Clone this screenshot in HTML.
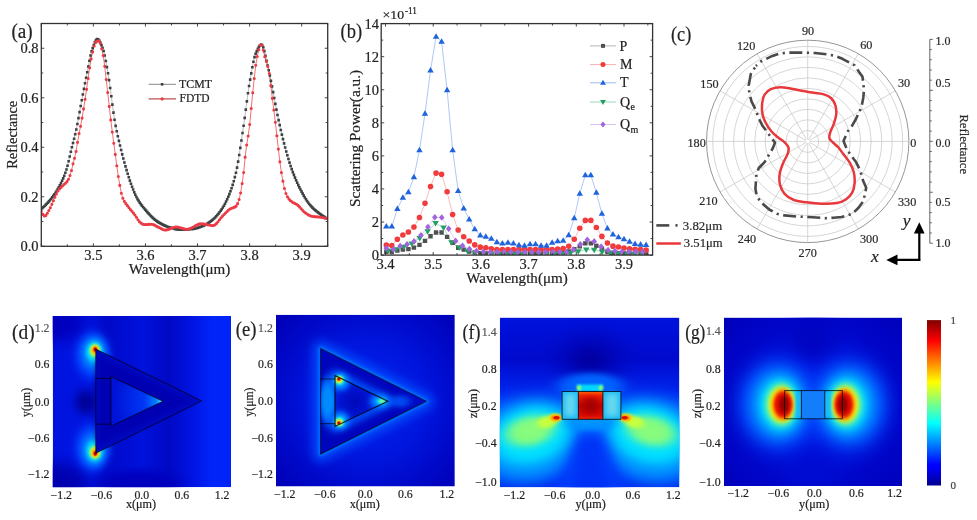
<!DOCTYPE html><html><head><meta charset="utf-8"><style>html,body{margin:0;padding:0;width:977px;height:520px;overflow:hidden;background:#fff}</style></head><body><svg width="977" height="520" viewBox="0 0 977 520" style="position:absolute;left:0;top:0;font-family:'Liberation Serif',serif;will-change:transform">
<rect width="977" height="520" fill="#ffffff"/>
<defs><clipPath id="clipa"><rect x="41.3" y="23.5" width="286.4" height="222.8"/></clipPath></defs>
<g clip-path="url(#clipa)">
<path d="M41.30,208.67 L42.39,207.84 L43.49,206.94 L44.58,205.96 L45.67,204.91 L46.77,203.80 L47.86,202.63 L48.95,201.40 L50.05,200.13 L51.14,198.80 L52.24,197.39 L53.33,195.91 L54.42,194.34 L55.52,192.69 L56.61,190.95 L57.70,189.12 L58.80,187.21 L59.89,185.20 L60.98,183.09 L62.08,180.82 L63.17,178.37 L64.26,175.70 L65.36,172.78 L66.45,169.57 L67.54,165.70 L68.64,161.22 L69.73,156.45 L70.83,151.72 L71.92,147.30 L73.01,143.05 L74.11,138.78 L75.20,134.31 L76.29,129.47 L77.39,124.05 L78.48,118.17 L79.57,112.09 L80.67,106.05 L81.76,100.27 L82.85,94.57 L83.95,88.90 L85.04,83.31 L86.13,77.81 L87.23,72.31 L88.32,66.49 L89.42,60.74 L90.51,55.54 L91.60,51.37 L92.70,48.10 L93.79,44.93 L94.88,42.16 L95.98,40.12 L97.07,39.14 L98.16,39.41 L99.26,40.64 L100.35,42.60 L101.44,45.04 L102.54,47.73 L103.63,50.98 L104.72,55.55 L105.82,61.07 L106.91,67.12 L108.01,73.30 L109.10,80.14 L110.19,87.94 L111.29,96.27 L112.38,104.66 L113.47,112.66 L114.57,119.82 L115.66,125.84 L116.75,131.23 L117.85,136.19 L118.94,140.89 L120.03,145.49 L121.13,149.98 L122.22,154.33 L123.31,158.51 L124.41,162.52 L125.50,166.37 L126.60,170.13 L127.69,173.78 L128.78,177.30 L129.88,180.65 L130.97,183.78 L132.06,186.70 L133.16,189.51 L134.25,192.20 L135.34,194.72 L136.44,197.03 L137.53,199.08 L138.62,200.91 L139.72,202.59 L140.81,204.16 L141.90,205.62 L143.00,207.00 L144.09,208.32 L145.19,209.61 L146.28,210.87 L147.37,212.13 L148.47,213.37 L149.56,214.57 L150.65,215.74 L151.75,216.85 L152.84,217.91 L153.93,218.89 L155.03,219.80 L156.12,220.62 L157.21,221.36 L158.31,222.08 L159.40,222.76 L160.49,223.42 L161.59,224.04 L162.68,224.62 L163.78,225.17 L164.87,225.67 L165.96,226.14 L167.06,226.56 L168.15,226.93 L169.24,227.26 L170.34,227.60 L171.43,227.94 L172.52,228.27 L173.62,228.57 L174.71,228.86 L175.80,229.11 L176.90,229.33 L177.99,229.51 L179.08,229.63 L180.18,229.70 L181.27,229.71 L182.37,229.70 L183.46,229.68 L184.55,229.64 L185.65,229.59 L186.74,229.53 L187.83,229.47 L188.93,229.40 L190.02,229.32 L191.11,229.23 L192.21,229.12 L193.30,228.96 L194.39,228.74 L195.49,228.49 L196.58,228.19 L197.67,227.86 L198.77,227.50 L199.86,227.12 L200.95,226.72 L202.05,226.31 L203.14,225.87 L204.24,225.36 L205.33,224.80 L206.42,224.18 L207.52,223.51 L208.61,222.78 L209.70,222.01 L210.80,221.19 L211.89,220.34 L212.98,219.45 L214.08,218.49 L215.17,217.44 L216.26,216.29 L217.36,215.05 L218.45,213.72 L219.54,212.29 L220.64,210.79 L221.73,209.21 L222.83,207.53 L223.92,205.70 L225.01,203.71 L226.11,201.56 L227.20,199.24 L228.29,196.76 L229.39,194.12 L230.48,191.31 L231.57,188.24 L232.67,184.88 L233.76,181.20 L234.85,177.16 L235.95,172.73 L237.04,167.63 L238.13,161.66 L239.23,155.01 L240.32,147.89 L241.42,140.50 L242.51,133.06 L243.60,125.73 L244.70,117.92 L245.79,109.66 L246.88,101.33 L247.98,93.32 L249.07,86.02 L250.16,79.62 L251.26,73.33 L252.35,67.29 L253.44,61.80 L254.54,57.17 L255.63,53.71 L256.72,51.21 L257.82,48.89 L258.91,46.90 L260.01,45.42 L261.10,44.63 L262.19,44.94 L263.29,47.25 L264.38,51.10 L265.47,55.83 L266.57,60.81 L267.66,65.44 L268.75,70.22 L269.85,75.43 L270.94,80.89 L272.03,86.39 L273.13,92.08 L274.22,97.99 L275.31,103.91 L276.41,109.59 L277.50,114.94 L278.60,120.13 L279.69,125.15 L280.78,129.98 L281.88,134.61 L282.97,139.08 L284.06,143.39 L285.16,147.53 L286.25,151.48 L287.34,155.32 L288.44,159.06 L289.53,162.65 L290.62,166.03 L291.72,169.17 L292.81,172.10 L293.90,174.92 L295.00,177.63 L296.09,180.23 L297.19,182.72 L298.28,185.11 L299.37,187.38 L300.47,189.56 L301.56,191.63 L302.65,193.64 L303.75,195.60 L304.84,197.49 L305.93,199.29 L307.03,200.99 L308.12,202.57 L309.21,204.01 L310.31,205.32 L311.40,206.51 L312.49,207.63 L313.59,208.68 L314.68,209.68 L315.78,210.62 L316.87,211.52 L317.96,212.39 L319.06,213.23 L320.15,214.07 L321.24,214.88 L322.34,215.66 L323.43,216.42 L324.52,217.14 L325.62,217.84 L326.71,218.50" fill="none" stroke="#777" stroke-width="0.5"/>
<path d="M41.30,210.90 L42.81,214.42 L44.32,216.06 L45.83,215.40 L47.34,213.23 L48.85,210.53 L50.36,207.76 L51.87,204.36 L53.38,200.69 L54.89,197.16 L56.40,193.96 L57.91,190.99 L59.42,188.93 L60.93,187.38 L62.44,185.97 L63.95,184.52 L65.46,183.22 L66.97,181.67 L68.48,179.32 L69.99,175.54 L71.50,170.50 L73.01,163.86 L74.52,158.32 L76.03,151.53 L77.54,142.33 L79.05,133.54 L80.56,126.25 L82.07,118.12 L83.58,108.91 L85.09,99.21 L86.60,89.35 L88.11,78.44 L89.62,67.68 L91.13,58.88 L92.64,52.04 L94.15,46.05 L95.66,42.40 L97.17,41.25 L98.68,40.84 L100.19,43.32 L101.70,48.76 L103.21,55.53 L104.72,66.35 L106.23,79.58 L107.74,92.57 L109.25,106.41 L110.77,119.92 L112.28,132.00 L113.79,143.31 L115.30,154.40 L116.81,165.82 L118.32,176.46 L119.83,185.37 L121.34,193.26 L122.85,198.29 L124.36,201.33 L125.87,203.64 L127.38,205.60 L128.89,207.58 L130.40,209.53 L131.91,211.32 L133.42,213.09 L134.93,214.97 L136.44,217.22 L137.95,219.68 L139.46,221.78 L140.97,223.10 L142.48,224.11 L143.99,224.51 L145.50,224.49 L147.01,224.43 L148.52,224.36 L150.03,224.30 L151.54,224.27 L153.05,224.50 L154.56,225.16 L156.07,226.02 L157.58,226.83 L159.09,227.53 L160.60,228.34 L162.11,229.11 L163.62,229.71 L165.13,229.96 L166.64,229.83 L168.15,229.44 L169.66,228.90 L171.17,228.29 L172.68,227.70 L174.19,227.25 L175.70,227.01 L177.21,227.05 L178.72,227.30 L180.23,227.68 L181.74,228.14 L183.25,228.58 L184.76,228.96 L186.27,229.18 L187.78,229.18 L189.29,228.86 L190.80,228.29 L192.31,227.53 L193.82,226.68 L195.33,225.81 L196.84,225.00 L198.35,224.34 L199.86,223.90 L201.37,223.77 L202.88,223.87 L204.39,224.08 L205.90,224.37 L207.41,224.70 L208.92,225.01 L210.43,225.28 L211.94,225.46 L213.45,225.48 L214.96,224.86 L216.47,223.53 L217.98,221.75 L219.49,219.75 L221.00,217.79 L222.51,216.10 L224.02,214.56 L225.53,212.96 L227.04,211.43 L228.55,210.07 L230.06,209.01 L231.57,208.32 L233.08,207.80 L234.59,207.16 L236.10,206.15 L237.61,203.63 L239.12,199.43 L240.63,192.94 L242.14,183.59 L243.65,172.48 L245.16,157.15 L246.67,144.94 L248.18,136.03 L249.70,124.51 L251.21,108.54 L252.72,92.82 L254.23,78.46 L255.74,65.31 L257.25,56.44 L258.76,49.71 L260.27,45.24 L261.78,45.29 L263.29,50.24 L264.80,56.64 L266.31,61.57 L267.82,66.41 L269.33,73.46 L270.84,85.67 L272.35,98.39 L273.86,110.04 L275.37,122.25 L276.88,135.81 L278.39,149.08 L279.90,161.83 L281.41,172.59 L282.92,181.14 L284.43,188.43 L285.94,193.57 L287.45,196.75 L288.96,199.11 L290.47,200.74 L291.98,201.85 L293.49,202.69 L295.00,203.44 L296.51,204.28 L298.02,205.39 L299.53,206.88 L301.04,208.60 L302.55,210.32 L304.06,211.81 L305.57,212.94 L307.08,214.00 L308.59,214.95 L310.10,215.73 L311.61,216.25 L313.12,216.49 L314.63,216.65 L316.14,216.76 L317.65,216.86 L319.16,217.00 L320.67,217.20 L322.18,217.47 L323.69,217.78 L325.20,218.15 L326.71,218.54" fill="none" stroke="#f03030" stroke-width="0.7"/>
<path d="M40.00,207.37h2.6v2.6h-2.6zM41.09,206.54h2.6v2.6h-2.6zM42.19,205.64h2.6v2.6h-2.6zM43.28,204.66h2.6v2.6h-2.6zM44.37,203.61h2.6v2.6h-2.6zM45.47,202.50h2.6v2.6h-2.6zM46.56,201.33h2.6v2.6h-2.6zM47.65,200.10h2.6v2.6h-2.6zM48.75,198.83h2.6v2.6h-2.6zM49.84,197.50h2.6v2.6h-2.6zM50.94,196.09h2.6v2.6h-2.6zM52.03,194.61h2.6v2.6h-2.6zM53.12,193.04h2.6v2.6h-2.6zM54.22,191.39h2.6v2.6h-2.6zM55.31,189.65h2.6v2.6h-2.6zM56.40,187.82h2.6v2.6h-2.6zM57.50,185.91h2.6v2.6h-2.6zM58.59,183.90h2.6v2.6h-2.6zM59.68,181.79h2.6v2.6h-2.6zM60.78,179.52h2.6v2.6h-2.6zM61.87,177.07h2.6v2.6h-2.6zM62.96,174.40h2.6v2.6h-2.6zM64.06,171.48h2.6v2.6h-2.6zM65.15,168.27h2.6v2.6h-2.6zM66.24,164.40h2.6v2.6h-2.6zM67.34,159.92h2.6v2.6h-2.6zM68.43,155.15h2.6v2.6h-2.6zM69.53,150.42h2.6v2.6h-2.6zM70.62,146.00h2.6v2.6h-2.6zM71.71,141.75h2.6v2.6h-2.6zM72.81,137.48h2.6v2.6h-2.6zM73.90,133.01h2.6v2.6h-2.6zM74.99,128.17h2.6v2.6h-2.6zM76.09,122.75h2.6v2.6h-2.6zM77.18,116.87h2.6v2.6h-2.6zM78.27,110.79h2.6v2.6h-2.6zM79.37,104.75h2.6v2.6h-2.6zM80.46,98.97h2.6v2.6h-2.6zM81.55,93.27h2.6v2.6h-2.6zM82.65,87.60h2.6v2.6h-2.6zM83.74,82.01h2.6v2.6h-2.6zM84.83,76.51h2.6v2.6h-2.6zM85.93,71.01h2.6v2.6h-2.6zM87.02,65.19h2.6v2.6h-2.6zM88.12,59.44h2.6v2.6h-2.6zM89.21,54.24h2.6v2.6h-2.6zM90.30,50.07h2.6v2.6h-2.6zM91.40,46.80h2.6v2.6h-2.6zM92.49,43.63h2.6v2.6h-2.6zM93.58,40.86h2.6v2.6h-2.6zM94.68,38.82h2.6v2.6h-2.6zM95.77,37.84h2.6v2.6h-2.6zM96.86,38.11h2.6v2.6h-2.6zM97.96,39.34h2.6v2.6h-2.6zM99.05,41.30h2.6v2.6h-2.6zM100.14,43.74h2.6v2.6h-2.6zM101.24,46.43h2.6v2.6h-2.6zM102.33,49.68h2.6v2.6h-2.6zM103.42,54.25h2.6v2.6h-2.6zM104.52,59.77h2.6v2.6h-2.6zM105.61,65.82h2.6v2.6h-2.6zM106.71,72.00h2.6v2.6h-2.6zM107.80,78.84h2.6v2.6h-2.6zM108.89,86.64h2.6v2.6h-2.6zM109.99,94.97h2.6v2.6h-2.6zM111.08,103.36h2.6v2.6h-2.6zM112.17,111.36h2.6v2.6h-2.6zM113.27,118.52h2.6v2.6h-2.6zM114.36,124.54h2.6v2.6h-2.6zM115.45,129.93h2.6v2.6h-2.6zM116.55,134.89h2.6v2.6h-2.6zM117.64,139.59h2.6v2.6h-2.6zM118.73,144.19h2.6v2.6h-2.6zM119.83,148.68h2.6v2.6h-2.6zM120.92,153.03h2.6v2.6h-2.6zM122.01,157.21h2.6v2.6h-2.6zM123.11,161.22h2.6v2.6h-2.6zM124.20,165.07h2.6v2.6h-2.6zM125.30,168.83h2.6v2.6h-2.6zM126.39,172.48h2.6v2.6h-2.6zM127.48,176.00h2.6v2.6h-2.6zM128.58,179.35h2.6v2.6h-2.6zM129.67,182.48h2.6v2.6h-2.6zM130.76,185.40h2.6v2.6h-2.6zM131.86,188.21h2.6v2.6h-2.6zM132.95,190.90h2.6v2.6h-2.6zM134.04,193.42h2.6v2.6h-2.6zM135.14,195.73h2.6v2.6h-2.6zM136.23,197.78h2.6v2.6h-2.6zM137.32,199.61h2.6v2.6h-2.6zM138.42,201.29h2.6v2.6h-2.6zM139.51,202.86h2.6v2.6h-2.6zM140.60,204.32h2.6v2.6h-2.6zM141.70,205.70h2.6v2.6h-2.6zM142.79,207.02h2.6v2.6h-2.6zM143.89,208.31h2.6v2.6h-2.6zM144.98,209.57h2.6v2.6h-2.6zM146.07,210.83h2.6v2.6h-2.6zM147.17,212.07h2.6v2.6h-2.6zM148.26,213.27h2.6v2.6h-2.6zM149.35,214.44h2.6v2.6h-2.6zM150.45,215.55h2.6v2.6h-2.6zM151.54,216.61h2.6v2.6h-2.6zM152.63,217.59h2.6v2.6h-2.6zM153.73,218.50h2.6v2.6h-2.6zM154.82,219.32h2.6v2.6h-2.6zM155.91,220.06h2.6v2.6h-2.6zM157.01,220.78h2.6v2.6h-2.6zM158.10,221.46h2.6v2.6h-2.6zM159.19,222.12h2.6v2.6h-2.6zM160.29,222.74h2.6v2.6h-2.6zM161.38,223.32h2.6v2.6h-2.6zM162.48,223.87h2.6v2.6h-2.6zM163.57,224.37h2.6v2.6h-2.6zM164.66,224.84h2.6v2.6h-2.6zM165.76,225.26h2.6v2.6h-2.6zM166.85,225.63h2.6v2.6h-2.6zM167.94,225.96h2.6v2.6h-2.6zM169.04,226.30h2.6v2.6h-2.6zM170.13,226.64h2.6v2.6h-2.6zM171.22,226.97h2.6v2.6h-2.6zM172.32,227.27h2.6v2.6h-2.6zM173.41,227.56h2.6v2.6h-2.6zM174.50,227.81h2.6v2.6h-2.6zM175.60,228.03h2.6v2.6h-2.6zM176.69,228.21h2.6v2.6h-2.6zM177.78,228.33h2.6v2.6h-2.6zM178.88,228.40h2.6v2.6h-2.6zM179.97,228.41h2.6v2.6h-2.6zM181.07,228.40h2.6v2.6h-2.6zM182.16,228.38h2.6v2.6h-2.6zM183.25,228.34h2.6v2.6h-2.6zM184.35,228.29h2.6v2.6h-2.6zM185.44,228.23h2.6v2.6h-2.6zM186.53,228.17h2.6v2.6h-2.6zM187.63,228.10h2.6v2.6h-2.6zM188.72,228.02h2.6v2.6h-2.6zM189.81,227.93h2.6v2.6h-2.6zM190.91,227.82h2.6v2.6h-2.6zM192.00,227.66h2.6v2.6h-2.6zM193.09,227.44h2.6v2.6h-2.6zM194.19,227.19h2.6v2.6h-2.6zM195.28,226.89h2.6v2.6h-2.6zM196.37,226.56h2.6v2.6h-2.6zM197.47,226.20h2.6v2.6h-2.6zM198.56,225.82h2.6v2.6h-2.6zM199.65,225.42h2.6v2.6h-2.6zM200.75,225.01h2.6v2.6h-2.6zM201.84,224.57h2.6v2.6h-2.6zM202.94,224.06h2.6v2.6h-2.6zM204.03,223.50h2.6v2.6h-2.6zM205.12,222.88h2.6v2.6h-2.6zM206.22,222.21h2.6v2.6h-2.6zM207.31,221.48h2.6v2.6h-2.6zM208.40,220.71h2.6v2.6h-2.6zM209.50,219.89h2.6v2.6h-2.6zM210.59,219.04h2.6v2.6h-2.6zM211.68,218.15h2.6v2.6h-2.6zM212.78,217.19h2.6v2.6h-2.6zM213.87,216.14h2.6v2.6h-2.6zM214.96,214.99h2.6v2.6h-2.6zM216.06,213.75h2.6v2.6h-2.6zM217.15,212.42h2.6v2.6h-2.6zM218.24,210.99h2.6v2.6h-2.6zM219.34,209.49h2.6v2.6h-2.6zM220.43,207.91h2.6v2.6h-2.6zM221.53,206.23h2.6v2.6h-2.6zM222.62,204.40h2.6v2.6h-2.6zM223.71,202.41h2.6v2.6h-2.6zM224.81,200.26h2.6v2.6h-2.6zM225.90,197.94h2.6v2.6h-2.6zM226.99,195.46h2.6v2.6h-2.6zM228.09,192.82h2.6v2.6h-2.6zM229.18,190.01h2.6v2.6h-2.6zM230.27,186.94h2.6v2.6h-2.6zM231.37,183.58h2.6v2.6h-2.6zM232.46,179.90h2.6v2.6h-2.6zM233.55,175.86h2.6v2.6h-2.6zM234.65,171.43h2.6v2.6h-2.6zM235.74,166.33h2.6v2.6h-2.6zM236.83,160.36h2.6v2.6h-2.6zM237.93,153.71h2.6v2.6h-2.6zM239.02,146.59h2.6v2.6h-2.6zM240.12,139.20h2.6v2.6h-2.6zM241.21,131.76h2.6v2.6h-2.6zM242.30,124.43h2.6v2.6h-2.6zM243.40,116.62h2.6v2.6h-2.6zM244.49,108.36h2.6v2.6h-2.6zM245.58,100.03h2.6v2.6h-2.6zM246.68,92.02h2.6v2.6h-2.6zM247.77,84.72h2.6v2.6h-2.6zM248.86,78.32h2.6v2.6h-2.6zM249.96,72.03h2.6v2.6h-2.6zM251.05,65.99h2.6v2.6h-2.6zM252.14,60.50h2.6v2.6h-2.6zM253.24,55.87h2.6v2.6h-2.6zM254.33,52.41h2.6v2.6h-2.6zM255.42,49.91h2.6v2.6h-2.6zM256.52,47.59h2.6v2.6h-2.6zM257.61,45.60h2.6v2.6h-2.6zM258.71,44.12h2.6v2.6h-2.6zM259.80,43.33h2.6v2.6h-2.6zM260.89,43.64h2.6v2.6h-2.6zM261.99,45.95h2.6v2.6h-2.6zM263.08,49.80h2.6v2.6h-2.6zM264.17,54.53h2.6v2.6h-2.6zM265.27,59.51h2.6v2.6h-2.6zM266.36,64.14h2.6v2.6h-2.6zM267.45,68.92h2.6v2.6h-2.6zM268.55,74.13h2.6v2.6h-2.6zM269.64,79.59h2.6v2.6h-2.6zM270.73,85.09h2.6v2.6h-2.6zM271.83,90.78h2.6v2.6h-2.6zM272.92,96.69h2.6v2.6h-2.6zM274.01,102.61h2.6v2.6h-2.6zM275.11,108.29h2.6v2.6h-2.6zM276.20,113.64h2.6v2.6h-2.6zM277.30,118.83h2.6v2.6h-2.6zM278.39,123.85h2.6v2.6h-2.6zM279.48,128.68h2.6v2.6h-2.6zM280.58,133.31h2.6v2.6h-2.6zM281.67,137.78h2.6v2.6h-2.6zM282.76,142.09h2.6v2.6h-2.6zM283.86,146.23h2.6v2.6h-2.6zM284.95,150.18h2.6v2.6h-2.6zM286.04,154.02h2.6v2.6h-2.6zM287.14,157.76h2.6v2.6h-2.6zM288.23,161.35h2.6v2.6h-2.6zM289.32,164.73h2.6v2.6h-2.6zM290.42,167.87h2.6v2.6h-2.6zM291.51,170.80h2.6v2.6h-2.6zM292.60,173.62h2.6v2.6h-2.6zM293.70,176.33h2.6v2.6h-2.6zM294.79,178.93h2.6v2.6h-2.6zM295.89,181.42h2.6v2.6h-2.6zM296.98,183.81h2.6v2.6h-2.6zM298.07,186.08h2.6v2.6h-2.6zM299.17,188.26h2.6v2.6h-2.6zM300.26,190.33h2.6v2.6h-2.6zM301.35,192.34h2.6v2.6h-2.6zM302.45,194.30h2.6v2.6h-2.6zM303.54,196.19h2.6v2.6h-2.6zM304.63,197.99h2.6v2.6h-2.6zM305.73,199.69h2.6v2.6h-2.6zM306.82,201.27h2.6v2.6h-2.6zM307.91,202.71h2.6v2.6h-2.6zM309.01,204.02h2.6v2.6h-2.6zM310.10,205.21h2.6v2.6h-2.6zM311.19,206.33h2.6v2.6h-2.6zM312.29,207.38h2.6v2.6h-2.6zM313.38,208.38h2.6v2.6h-2.6zM314.48,209.32h2.6v2.6h-2.6zM315.57,210.22h2.6v2.6h-2.6zM316.66,211.09h2.6v2.6h-2.6zM317.76,211.93h2.6v2.6h-2.6zM318.85,212.77h2.6v2.6h-2.6zM319.94,213.58h2.6v2.6h-2.6zM321.04,214.36h2.6v2.6h-2.6zM322.13,215.12h2.6v2.6h-2.6zM323.22,215.84h2.6v2.6h-2.6zM324.32,216.54h2.6v2.6h-2.6zM325.41,217.20h2.6v2.6h-2.6z" fill="#3c4243"/>
<path d="M39.75,210.90a1.55,1.55 0 1,0 3.1,0a1.55,1.55 0 1,0 -3.1,0zM41.26,214.42a1.55,1.55 0 1,0 3.1,0a1.55,1.55 0 1,0 -3.1,0zM42.77,216.06a1.55,1.55 0 1,0 3.1,0a1.55,1.55 0 1,0 -3.1,0zM44.28,215.40a1.55,1.55 0 1,0 3.1,0a1.55,1.55 0 1,0 -3.1,0zM45.79,213.23a1.55,1.55 0 1,0 3.1,0a1.55,1.55 0 1,0 -3.1,0zM47.30,210.53a1.55,1.55 0 1,0 3.1,0a1.55,1.55 0 1,0 -3.1,0zM48.81,207.76a1.55,1.55 0 1,0 3.1,0a1.55,1.55 0 1,0 -3.1,0zM50.32,204.36a1.55,1.55 0 1,0 3.1,0a1.55,1.55 0 1,0 -3.1,0zM51.83,200.69a1.55,1.55 0 1,0 3.1,0a1.55,1.55 0 1,0 -3.1,0zM53.34,197.16a1.55,1.55 0 1,0 3.1,0a1.55,1.55 0 1,0 -3.1,0zM54.85,193.96a1.55,1.55 0 1,0 3.1,0a1.55,1.55 0 1,0 -3.1,0zM56.36,190.99a1.55,1.55 0 1,0 3.1,0a1.55,1.55 0 1,0 -3.1,0zM57.87,188.93a1.55,1.55 0 1,0 3.1,0a1.55,1.55 0 1,0 -3.1,0zM59.38,187.38a1.55,1.55 0 1,0 3.1,0a1.55,1.55 0 1,0 -3.1,0zM60.89,185.97a1.55,1.55 0 1,0 3.1,0a1.55,1.55 0 1,0 -3.1,0zM62.40,184.52a1.55,1.55 0 1,0 3.1,0a1.55,1.55 0 1,0 -3.1,0zM63.91,183.22a1.55,1.55 0 1,0 3.1,0a1.55,1.55 0 1,0 -3.1,0zM65.42,181.67a1.55,1.55 0 1,0 3.1,0a1.55,1.55 0 1,0 -3.1,0zM66.93,179.32a1.55,1.55 0 1,0 3.1,0a1.55,1.55 0 1,0 -3.1,0zM68.44,175.54a1.55,1.55 0 1,0 3.1,0a1.55,1.55 0 1,0 -3.1,0zM69.95,170.50a1.55,1.55 0 1,0 3.1,0a1.55,1.55 0 1,0 -3.1,0zM71.46,163.86a1.55,1.55 0 1,0 3.1,0a1.55,1.55 0 1,0 -3.1,0zM72.97,158.32a1.55,1.55 0 1,0 3.1,0a1.55,1.55 0 1,0 -3.1,0zM74.48,151.53a1.55,1.55 0 1,0 3.1,0a1.55,1.55 0 1,0 -3.1,0zM75.99,142.33a1.55,1.55 0 1,0 3.1,0a1.55,1.55 0 1,0 -3.1,0zM77.50,133.54a1.55,1.55 0 1,0 3.1,0a1.55,1.55 0 1,0 -3.1,0zM79.01,126.25a1.55,1.55 0 1,0 3.1,0a1.55,1.55 0 1,0 -3.1,0zM80.52,118.12a1.55,1.55 0 1,0 3.1,0a1.55,1.55 0 1,0 -3.1,0zM82.03,108.91a1.55,1.55 0 1,0 3.1,0a1.55,1.55 0 1,0 -3.1,0zM83.54,99.21a1.55,1.55 0 1,0 3.1,0a1.55,1.55 0 1,0 -3.1,0zM85.05,89.35a1.55,1.55 0 1,0 3.1,0a1.55,1.55 0 1,0 -3.1,0zM86.56,78.44a1.55,1.55 0 1,0 3.1,0a1.55,1.55 0 1,0 -3.1,0zM88.07,67.68a1.55,1.55 0 1,0 3.1,0a1.55,1.55 0 1,0 -3.1,0zM89.58,58.88a1.55,1.55 0 1,0 3.1,0a1.55,1.55 0 1,0 -3.1,0zM91.09,52.04a1.55,1.55 0 1,0 3.1,0a1.55,1.55 0 1,0 -3.1,0zM92.60,46.05a1.55,1.55 0 1,0 3.1,0a1.55,1.55 0 1,0 -3.1,0zM94.11,42.40a1.55,1.55 0 1,0 3.1,0a1.55,1.55 0 1,0 -3.1,0zM95.62,41.25a1.55,1.55 0 1,0 3.1,0a1.55,1.55 0 1,0 -3.1,0zM97.13,40.84a1.55,1.55 0 1,0 3.1,0a1.55,1.55 0 1,0 -3.1,0zM98.64,43.32a1.55,1.55 0 1,0 3.1,0a1.55,1.55 0 1,0 -3.1,0zM100.15,48.76a1.55,1.55 0 1,0 3.1,0a1.55,1.55 0 1,0 -3.1,0zM101.66,55.53a1.55,1.55 0 1,0 3.1,0a1.55,1.55 0 1,0 -3.1,0zM103.17,66.35a1.55,1.55 0 1,0 3.1,0a1.55,1.55 0 1,0 -3.1,0zM104.68,79.58a1.55,1.55 0 1,0 3.1,0a1.55,1.55 0 1,0 -3.1,0zM106.19,92.57a1.55,1.55 0 1,0 3.1,0a1.55,1.55 0 1,0 -3.1,0zM107.70,106.41a1.55,1.55 0 1,0 3.1,0a1.55,1.55 0 1,0 -3.1,0zM109.22,119.92a1.55,1.55 0 1,0 3.1,0a1.55,1.55 0 1,0 -3.1,0zM110.73,132.00a1.55,1.55 0 1,0 3.1,0a1.55,1.55 0 1,0 -3.1,0zM112.24,143.31a1.55,1.55 0 1,0 3.1,0a1.55,1.55 0 1,0 -3.1,0zM113.75,154.40a1.55,1.55 0 1,0 3.1,0a1.55,1.55 0 1,0 -3.1,0zM115.26,165.82a1.55,1.55 0 1,0 3.1,0a1.55,1.55 0 1,0 -3.1,0zM116.77,176.46a1.55,1.55 0 1,0 3.1,0a1.55,1.55 0 1,0 -3.1,0zM118.28,185.37a1.55,1.55 0 1,0 3.1,0a1.55,1.55 0 1,0 -3.1,0zM119.79,193.26a1.55,1.55 0 1,0 3.1,0a1.55,1.55 0 1,0 -3.1,0zM121.30,198.29a1.55,1.55 0 1,0 3.1,0a1.55,1.55 0 1,0 -3.1,0zM122.81,201.33a1.55,1.55 0 1,0 3.1,0a1.55,1.55 0 1,0 -3.1,0zM124.32,203.64a1.55,1.55 0 1,0 3.1,0a1.55,1.55 0 1,0 -3.1,0zM125.83,205.60a1.55,1.55 0 1,0 3.1,0a1.55,1.55 0 1,0 -3.1,0zM127.34,207.58a1.55,1.55 0 1,0 3.1,0a1.55,1.55 0 1,0 -3.1,0zM128.85,209.53a1.55,1.55 0 1,0 3.1,0a1.55,1.55 0 1,0 -3.1,0zM130.36,211.32a1.55,1.55 0 1,0 3.1,0a1.55,1.55 0 1,0 -3.1,0zM131.87,213.09a1.55,1.55 0 1,0 3.1,0a1.55,1.55 0 1,0 -3.1,0zM133.38,214.97a1.55,1.55 0 1,0 3.1,0a1.55,1.55 0 1,0 -3.1,0zM134.89,217.22a1.55,1.55 0 1,0 3.1,0a1.55,1.55 0 1,0 -3.1,0zM136.40,219.68a1.55,1.55 0 1,0 3.1,0a1.55,1.55 0 1,0 -3.1,0zM137.91,221.78a1.55,1.55 0 1,0 3.1,0a1.55,1.55 0 1,0 -3.1,0zM139.42,223.10a1.55,1.55 0 1,0 3.1,0a1.55,1.55 0 1,0 -3.1,0zM140.93,224.11a1.55,1.55 0 1,0 3.1,0a1.55,1.55 0 1,0 -3.1,0zM142.44,224.51a1.55,1.55 0 1,0 3.1,0a1.55,1.55 0 1,0 -3.1,0zM143.95,224.49a1.55,1.55 0 1,0 3.1,0a1.55,1.55 0 1,0 -3.1,0zM145.46,224.43a1.55,1.55 0 1,0 3.1,0a1.55,1.55 0 1,0 -3.1,0zM146.97,224.36a1.55,1.55 0 1,0 3.1,0a1.55,1.55 0 1,0 -3.1,0zM148.48,224.30a1.55,1.55 0 1,0 3.1,0a1.55,1.55 0 1,0 -3.1,0zM149.99,224.27a1.55,1.55 0 1,0 3.1,0a1.55,1.55 0 1,0 -3.1,0zM151.50,224.50a1.55,1.55 0 1,0 3.1,0a1.55,1.55 0 1,0 -3.1,0zM153.01,225.16a1.55,1.55 0 1,0 3.1,0a1.55,1.55 0 1,0 -3.1,0zM154.52,226.02a1.55,1.55 0 1,0 3.1,0a1.55,1.55 0 1,0 -3.1,0zM156.03,226.83a1.55,1.55 0 1,0 3.1,0a1.55,1.55 0 1,0 -3.1,0zM157.54,227.53a1.55,1.55 0 1,0 3.1,0a1.55,1.55 0 1,0 -3.1,0zM159.05,228.34a1.55,1.55 0 1,0 3.1,0a1.55,1.55 0 1,0 -3.1,0zM160.56,229.11a1.55,1.55 0 1,0 3.1,0a1.55,1.55 0 1,0 -3.1,0zM162.07,229.71a1.55,1.55 0 1,0 3.1,0a1.55,1.55 0 1,0 -3.1,0zM163.58,229.96a1.55,1.55 0 1,0 3.1,0a1.55,1.55 0 1,0 -3.1,0zM165.09,229.83a1.55,1.55 0 1,0 3.1,0a1.55,1.55 0 1,0 -3.1,0zM166.60,229.44a1.55,1.55 0 1,0 3.1,0a1.55,1.55 0 1,0 -3.1,0zM168.11,228.90a1.55,1.55 0 1,0 3.1,0a1.55,1.55 0 1,0 -3.1,0zM169.62,228.29a1.55,1.55 0 1,0 3.1,0a1.55,1.55 0 1,0 -3.1,0zM171.13,227.70a1.55,1.55 0 1,0 3.1,0a1.55,1.55 0 1,0 -3.1,0zM172.64,227.25a1.55,1.55 0 1,0 3.1,0a1.55,1.55 0 1,0 -3.1,0zM174.15,227.01a1.55,1.55 0 1,0 3.1,0a1.55,1.55 0 1,0 -3.1,0zM175.66,227.05a1.55,1.55 0 1,0 3.1,0a1.55,1.55 0 1,0 -3.1,0zM177.17,227.30a1.55,1.55 0 1,0 3.1,0a1.55,1.55 0 1,0 -3.1,0zM178.68,227.68a1.55,1.55 0 1,0 3.1,0a1.55,1.55 0 1,0 -3.1,0zM180.19,228.14a1.55,1.55 0 1,0 3.1,0a1.55,1.55 0 1,0 -3.1,0zM181.70,228.58a1.55,1.55 0 1,0 3.1,0a1.55,1.55 0 1,0 -3.1,0zM183.21,228.96a1.55,1.55 0 1,0 3.1,0a1.55,1.55 0 1,0 -3.1,0zM184.72,229.18a1.55,1.55 0 1,0 3.1,0a1.55,1.55 0 1,0 -3.1,0zM186.23,229.18a1.55,1.55 0 1,0 3.1,0a1.55,1.55 0 1,0 -3.1,0zM187.74,228.86a1.55,1.55 0 1,0 3.1,0a1.55,1.55 0 1,0 -3.1,0zM189.25,228.29a1.55,1.55 0 1,0 3.1,0a1.55,1.55 0 1,0 -3.1,0zM190.76,227.53a1.55,1.55 0 1,0 3.1,0a1.55,1.55 0 1,0 -3.1,0zM192.27,226.68a1.55,1.55 0 1,0 3.1,0a1.55,1.55 0 1,0 -3.1,0zM193.78,225.81a1.55,1.55 0 1,0 3.1,0a1.55,1.55 0 1,0 -3.1,0zM195.29,225.00a1.55,1.55 0 1,0 3.1,0a1.55,1.55 0 1,0 -3.1,0zM196.80,224.34a1.55,1.55 0 1,0 3.1,0a1.55,1.55 0 1,0 -3.1,0zM198.31,223.90a1.55,1.55 0 1,0 3.1,0a1.55,1.55 0 1,0 -3.1,0zM199.82,223.77a1.55,1.55 0 1,0 3.1,0a1.55,1.55 0 1,0 -3.1,0zM201.33,223.87a1.55,1.55 0 1,0 3.1,0a1.55,1.55 0 1,0 -3.1,0zM202.84,224.08a1.55,1.55 0 1,0 3.1,0a1.55,1.55 0 1,0 -3.1,0zM204.35,224.37a1.55,1.55 0 1,0 3.1,0a1.55,1.55 0 1,0 -3.1,0zM205.86,224.70a1.55,1.55 0 1,0 3.1,0a1.55,1.55 0 1,0 -3.1,0zM207.37,225.01a1.55,1.55 0 1,0 3.1,0a1.55,1.55 0 1,0 -3.1,0zM208.88,225.28a1.55,1.55 0 1,0 3.1,0a1.55,1.55 0 1,0 -3.1,0zM210.39,225.46a1.55,1.55 0 1,0 3.1,0a1.55,1.55 0 1,0 -3.1,0zM211.90,225.48a1.55,1.55 0 1,0 3.1,0a1.55,1.55 0 1,0 -3.1,0zM213.41,224.86a1.55,1.55 0 1,0 3.1,0a1.55,1.55 0 1,0 -3.1,0zM214.92,223.53a1.55,1.55 0 1,0 3.1,0a1.55,1.55 0 1,0 -3.1,0zM216.43,221.75a1.55,1.55 0 1,0 3.1,0a1.55,1.55 0 1,0 -3.1,0zM217.94,219.75a1.55,1.55 0 1,0 3.1,0a1.55,1.55 0 1,0 -3.1,0zM219.45,217.79a1.55,1.55 0 1,0 3.1,0a1.55,1.55 0 1,0 -3.1,0zM220.96,216.10a1.55,1.55 0 1,0 3.1,0a1.55,1.55 0 1,0 -3.1,0zM222.47,214.56a1.55,1.55 0 1,0 3.1,0a1.55,1.55 0 1,0 -3.1,0zM223.98,212.96a1.55,1.55 0 1,0 3.1,0a1.55,1.55 0 1,0 -3.1,0zM225.49,211.43a1.55,1.55 0 1,0 3.1,0a1.55,1.55 0 1,0 -3.1,0zM227.00,210.07a1.55,1.55 0 1,0 3.1,0a1.55,1.55 0 1,0 -3.1,0zM228.51,209.01a1.55,1.55 0 1,0 3.1,0a1.55,1.55 0 1,0 -3.1,0zM230.02,208.32a1.55,1.55 0 1,0 3.1,0a1.55,1.55 0 1,0 -3.1,0zM231.53,207.80a1.55,1.55 0 1,0 3.1,0a1.55,1.55 0 1,0 -3.1,0zM233.04,207.16a1.55,1.55 0 1,0 3.1,0a1.55,1.55 0 1,0 -3.1,0zM234.55,206.15a1.55,1.55 0 1,0 3.1,0a1.55,1.55 0 1,0 -3.1,0zM236.06,203.63a1.55,1.55 0 1,0 3.1,0a1.55,1.55 0 1,0 -3.1,0zM237.57,199.43a1.55,1.55 0 1,0 3.1,0a1.55,1.55 0 1,0 -3.1,0zM239.08,192.94a1.55,1.55 0 1,0 3.1,0a1.55,1.55 0 1,0 -3.1,0zM240.59,183.59a1.55,1.55 0 1,0 3.1,0a1.55,1.55 0 1,0 -3.1,0zM242.10,172.48a1.55,1.55 0 1,0 3.1,0a1.55,1.55 0 1,0 -3.1,0zM243.61,157.15a1.55,1.55 0 1,0 3.1,0a1.55,1.55 0 1,0 -3.1,0zM245.12,144.94a1.55,1.55 0 1,0 3.1,0a1.55,1.55 0 1,0 -3.1,0zM246.63,136.03a1.55,1.55 0 1,0 3.1,0a1.55,1.55 0 1,0 -3.1,0zM248.15,124.51a1.55,1.55 0 1,0 3.1,0a1.55,1.55 0 1,0 -3.1,0zM249.66,108.54a1.55,1.55 0 1,0 3.1,0a1.55,1.55 0 1,0 -3.1,0zM251.17,92.82a1.55,1.55 0 1,0 3.1,0a1.55,1.55 0 1,0 -3.1,0zM252.68,78.46a1.55,1.55 0 1,0 3.1,0a1.55,1.55 0 1,0 -3.1,0zM254.19,65.31a1.55,1.55 0 1,0 3.1,0a1.55,1.55 0 1,0 -3.1,0zM255.70,56.44a1.55,1.55 0 1,0 3.1,0a1.55,1.55 0 1,0 -3.1,0zM257.21,49.71a1.55,1.55 0 1,0 3.1,0a1.55,1.55 0 1,0 -3.1,0zM258.72,45.24a1.55,1.55 0 1,0 3.1,0a1.55,1.55 0 1,0 -3.1,0zM260.23,45.29a1.55,1.55 0 1,0 3.1,0a1.55,1.55 0 1,0 -3.1,0zM261.74,50.24a1.55,1.55 0 1,0 3.1,0a1.55,1.55 0 1,0 -3.1,0zM263.25,56.64a1.55,1.55 0 1,0 3.1,0a1.55,1.55 0 1,0 -3.1,0zM264.76,61.57a1.55,1.55 0 1,0 3.1,0a1.55,1.55 0 1,0 -3.1,0zM266.27,66.41a1.55,1.55 0 1,0 3.1,0a1.55,1.55 0 1,0 -3.1,0zM267.78,73.46a1.55,1.55 0 1,0 3.1,0a1.55,1.55 0 1,0 -3.1,0zM269.29,85.67a1.55,1.55 0 1,0 3.1,0a1.55,1.55 0 1,0 -3.1,0zM270.80,98.39a1.55,1.55 0 1,0 3.1,0a1.55,1.55 0 1,0 -3.1,0zM272.31,110.04a1.55,1.55 0 1,0 3.1,0a1.55,1.55 0 1,0 -3.1,0zM273.82,122.25a1.55,1.55 0 1,0 3.1,0a1.55,1.55 0 1,0 -3.1,0zM275.33,135.81a1.55,1.55 0 1,0 3.1,0a1.55,1.55 0 1,0 -3.1,0zM276.84,149.08a1.55,1.55 0 1,0 3.1,0a1.55,1.55 0 1,0 -3.1,0zM278.35,161.83a1.55,1.55 0 1,0 3.1,0a1.55,1.55 0 1,0 -3.1,0zM279.86,172.59a1.55,1.55 0 1,0 3.1,0a1.55,1.55 0 1,0 -3.1,0zM281.37,181.14a1.55,1.55 0 1,0 3.1,0a1.55,1.55 0 1,0 -3.1,0zM282.88,188.43a1.55,1.55 0 1,0 3.1,0a1.55,1.55 0 1,0 -3.1,0zM284.39,193.57a1.55,1.55 0 1,0 3.1,0a1.55,1.55 0 1,0 -3.1,0zM285.90,196.75a1.55,1.55 0 1,0 3.1,0a1.55,1.55 0 1,0 -3.1,0zM287.41,199.11a1.55,1.55 0 1,0 3.1,0a1.55,1.55 0 1,0 -3.1,0zM288.92,200.74a1.55,1.55 0 1,0 3.1,0a1.55,1.55 0 1,0 -3.1,0zM290.43,201.85a1.55,1.55 0 1,0 3.1,0a1.55,1.55 0 1,0 -3.1,0zM291.94,202.69a1.55,1.55 0 1,0 3.1,0a1.55,1.55 0 1,0 -3.1,0zM293.45,203.44a1.55,1.55 0 1,0 3.1,0a1.55,1.55 0 1,0 -3.1,0zM294.96,204.28a1.55,1.55 0 1,0 3.1,0a1.55,1.55 0 1,0 -3.1,0zM296.47,205.39a1.55,1.55 0 1,0 3.1,0a1.55,1.55 0 1,0 -3.1,0zM297.98,206.88a1.55,1.55 0 1,0 3.1,0a1.55,1.55 0 1,0 -3.1,0zM299.49,208.60a1.55,1.55 0 1,0 3.1,0a1.55,1.55 0 1,0 -3.1,0zM301.00,210.32a1.55,1.55 0 1,0 3.1,0a1.55,1.55 0 1,0 -3.1,0zM302.51,211.81a1.55,1.55 0 1,0 3.1,0a1.55,1.55 0 1,0 -3.1,0zM304.02,212.94a1.55,1.55 0 1,0 3.1,0a1.55,1.55 0 1,0 -3.1,0zM305.53,214.00a1.55,1.55 0 1,0 3.1,0a1.55,1.55 0 1,0 -3.1,0zM307.04,214.95a1.55,1.55 0 1,0 3.1,0a1.55,1.55 0 1,0 -3.1,0zM308.55,215.73a1.55,1.55 0 1,0 3.1,0a1.55,1.55 0 1,0 -3.1,0zM310.06,216.25a1.55,1.55 0 1,0 3.1,0a1.55,1.55 0 1,0 -3.1,0zM311.57,216.49a1.55,1.55 0 1,0 3.1,0a1.55,1.55 0 1,0 -3.1,0zM313.08,216.65a1.55,1.55 0 1,0 3.1,0a1.55,1.55 0 1,0 -3.1,0zM314.59,216.76a1.55,1.55 0 1,0 3.1,0a1.55,1.55 0 1,0 -3.1,0zM316.10,216.86a1.55,1.55 0 1,0 3.1,0a1.55,1.55 0 1,0 -3.1,0zM317.61,217.00a1.55,1.55 0 1,0 3.1,0a1.55,1.55 0 1,0 -3.1,0zM319.12,217.20a1.55,1.55 0 1,0 3.1,0a1.55,1.55 0 1,0 -3.1,0zM320.63,217.47a1.55,1.55 0 1,0 3.1,0a1.55,1.55 0 1,0 -3.1,0zM322.14,217.78a1.55,1.55 0 1,0 3.1,0a1.55,1.55 0 1,0 -3.1,0zM323.65,218.15a1.55,1.55 0 1,0 3.1,0a1.55,1.55 0 1,0 -3.1,0zM325.16,218.54a1.55,1.55 0 1,0 3.1,0a1.55,1.55 0 1,0 -3.1,0z" fill="#ec3a44"/>
</g>
<rect x="41.3" y="23.5" width="286.4" height="222.8" fill="none" stroke="#333" stroke-width="1.3"/>
<path d="M41.30,246.3v-3M41.30,23.5v3M67.34,246.3v-2M67.34,23.5v2M93.37,246.3v-3M93.37,23.5v3M119.41,246.3v-2M119.41,23.5v2M145.45,246.3v-3M145.45,23.5v3M171.48,246.3v-2M171.48,23.5v2M197.52,246.3v-3M197.52,23.5v3M223.55,246.3v-2M223.55,23.5v2M249.59,246.3v-3M249.59,23.5v3M275.63,246.3v-2M275.63,23.5v2M301.66,246.3v-3M301.66,23.5v3M327.70,246.3v-2M327.70,23.5v2M41.3,246.30h3M327.7,246.30h-3M41.3,221.54h2M327.7,221.54h-2M41.3,196.79h3M327.7,196.79h-3M41.3,172.03h2M327.7,172.03h-2M41.3,147.28h3M327.7,147.28h-3M41.3,122.52h2M327.7,122.52h-2M41.3,97.77h3M327.7,97.77h-3M41.3,73.01h2M327.7,73.01h-2M41.3,48.26h3M327.7,48.26h-3M41.3,23.50h2M327.7,23.50h-2" stroke="#333" stroke-width="0.9"/>
<text x="93.37" y="259.80" font-size="14.5" text-anchor="middle" fill="#222" stroke="#222" stroke-width="0.2" >3.5</text>
<text x="145.45" y="259.80" font-size="14.5" text-anchor="middle" fill="#222" stroke="#222" stroke-width="0.2" >3.6</text>
<text x="197.52" y="259.80" font-size="14.5" text-anchor="middle" fill="#222" stroke="#222" stroke-width="0.2" >3.7</text>
<text x="249.59" y="259.80" font-size="14.5" text-anchor="middle" fill="#222" stroke="#222" stroke-width="0.2" >3.8</text>
<text x="301.66" y="259.80" font-size="14.5" text-anchor="middle" fill="#222" stroke="#222" stroke-width="0.2" >3.9</text>
<text x="38.60" y="251.30" font-size="14.5" text-anchor="end" fill="#222" stroke="#222" stroke-width="0.2" >0.0</text>
<text x="38.60" y="201.79" font-size="14.5" text-anchor="end" fill="#222" stroke="#222" stroke-width="0.2" >0.2</text>
<text x="38.60" y="152.28" font-size="14.5" text-anchor="end" fill="#222" stroke="#222" stroke-width="0.2" >0.4</text>
<text x="38.60" y="102.77" font-size="14.5" text-anchor="end" fill="#222" stroke="#222" stroke-width="0.2" >0.6</text>
<text x="38.60" y="53.26" font-size="14.5" text-anchor="end" fill="#222" stroke="#222" stroke-width="0.2" >0.8</text>
<text x="179.50" y="273.70" font-size="14.8" text-anchor="middle" fill="#222" stroke="#222" stroke-width="0.2" textLength="101.50" lengthAdjust="spacingAndGlyphs" >Wavelength(μm)</text>
<text x="0" y="0" font-size="14.5" text-anchor="middle" fill="#222" stroke="#222" stroke-width="0.2" transform="translate(17.3,134.75) rotate(-90)" textLength="68" lengthAdjust="spacingAndGlyphs">Reflectance</text>
<text x="11.50" y="38.30" font-size="20" text-anchor="start" fill="#222" stroke="#222" stroke-width="0.2" textLength="21.20" lengthAdjust="spacingAndGlyphs" >(a)</text>
<path d="M148.6,84.3H176M148.6,98.9H176" stroke="#555" stroke-width="0.7"/>
<path d="M148.6,98.9H176" stroke="#f03030" stroke-width="0.7"/>
<rect x="160.8" y="83" width="2.6" height="2.6" fill="#3c4243"/>
<circle cx="162.1" cy="98.9" r="1.6" fill="#ec3a44"/>
<text x="179.00" y="88.00" font-size="11.8" text-anchor="start" fill="#222" stroke="#222" stroke-width="0.2" textLength="32.90" lengthAdjust="spacingAndGlyphs" >TCMT</text>
<text x="179.60" y="102.10" font-size="11.8" text-anchor="start" fill="#222" stroke="#222" stroke-width="0.2" textLength="30.00" lengthAdjust="spacingAndGlyphs" >FDTD</text>
<defs><clipPath id="clipb"><rect x="381.2" y="23.6" width="271.40000000000003" height="231.5"/></clipPath></defs>
<g clip-path="url(#clipb)">
<path d="M386.30,251.79 L391.83,252.12 L397.36,250.64 L402.88,249.64 L408.41,249.15 L413.94,247.66 L419.47,244.85 L425.00,240.88 L430.52,236.25 L436.05,232.45 L441.58,232.45 L447.11,236.91 L452.64,242.70 L458.16,247.82 L463.69,249.64 L469.22,251.46 L474.75,252.62 L480.28,253.12 L485.80,253.45 L491.33,253.45 L496.86,253.45 L502.39,253.45 L507.92,253.45 L513.44,253.45 L518.97,253.45 L524.50,253.45 L530.03,253.45 L535.56,253.45 L541.08,253.45 L546.61,253.45 L552.14,253.28 L557.67,253.12 L563.20,252.78 L568.72,251.46 L574.25,249.31 L579.78,246.34 L585.31,243.36 L590.84,243.36 L596.36,245.84 L601.89,248.65 L607.42,251.79 L612.95,252.95 L618.48,253.28 L624.00,253.45 L629.53,253.45 L635.06,253.45 L640.59,253.45 L646.12,253.45" fill="none" stroke="#a0a0a0" stroke-width="0.65"/>
<path d="M386.30,245.01 L391.83,245.51 L397.36,239.23 L402.88,234.93 L408.41,231.95 L413.94,226.99 L419.47,217.56 L425.00,203.34 L430.52,186.48 L436.05,173.08 L441.58,174.24 L447.11,191.77 L452.64,214.59 L458.16,229.97 L463.69,236.75 L469.22,241.04 L474.75,244.85 L480.28,247.16 L485.80,247.82 L491.33,248.82 L496.86,249.64 L502.39,249.64 L507.92,249.64 L513.44,249.64 L518.97,249.64 L524.50,249.64 L530.03,249.64 L535.56,249.64 L541.08,249.64 L546.61,249.64 L552.14,249.64 L557.67,249.15 L563.20,248.49 L568.72,246.34 L574.25,239.23 L579.78,228.31 L585.31,220.38 L590.84,220.38 L596.36,227.49 L601.89,236.41 L607.42,243.03 L612.95,246.17 L618.48,247.00 L624.00,247.99 L629.53,248.82 L635.06,249.31 L640.59,249.48 L646.12,250.14" fill="none" stroke="#f29a9a" stroke-width="0.65"/>
<path d="M386.30,226.33 L391.83,226.33 L397.36,208.80 L402.88,197.56 L408.41,192.10 L413.94,177.05 L419.47,150.10 L425.00,113.55 L430.52,70.40 L436.05,36.66 L441.58,41.62 L447.11,90.07 L452.64,150.10 L458.16,190.78 L463.69,208.30 L469.22,219.38 L474.75,229.14 L480.28,235.42 L485.80,236.75 L491.33,238.56 L496.86,242.04 L502.39,243.36 L507.92,242.53 L513.44,243.36 L518.97,245.18 L524.50,245.67 L530.03,244.19 L535.56,244.19 L541.08,245.67 L546.61,245.67 L552.14,242.53 L557.67,241.04 L563.20,240.71 L568.72,235.09 L574.25,218.06 L579.78,193.59 L585.31,175.07 L590.84,175.07 L596.36,192.59 L601.89,213.76 L607.42,228.31 L612.95,234.43 L618.48,237.08 L624.00,239.06 L629.53,241.71 L635.06,243.86 L640.59,244.52 L646.12,244.85" fill="none" stroke="#82aaee" stroke-width="0.65"/>
<path d="M388.00,250.97 L395.93,249.31 L403.86,246.83 L411.79,243.53 L419.72,238.07 L427.65,231.45 L435.58,223.19 L443.51,227.65 L451.44,242.37 L459.37,247.66 L467.30,250.97 L475.23,252.62 L483.16,253.45 L491.09,253.78 L499.02,253.78 L506.95,253.78 L514.88,253.78 L522.81,253.78 L530.74,253.78 L538.67,253.78 L546.60,253.78 L554.53,253.78 L562.46,253.61 L570.39,253.12 L578.32,251.46 L586.25,249.64 L594.18,249.97 L602.11,251.79 L610.04,253.12 L617.97,253.61 L625.90,253.78 L633.83,253.78 L641.76,253.78" fill="none" stroke="#80d0a8" stroke-width="0.65"/>
<path d="M386.30,248.16 L393.23,249.48 L400.16,246.01 L407.09,244.35 L414.02,241.38 L420.95,235.26 L427.88,226.99 L434.81,217.23 L441.74,217.56 L448.67,228.81 L455.60,240.88 L462.53,245.84 L469.46,248.98 L476.39,250.97 L483.32,251.79 L490.25,252.12 L497.18,252.12 L504.11,252.12 L511.04,252.12 L517.97,252.12 L524.90,252.12 L531.83,252.12 L538.76,252.12 L545.69,252.12 L552.62,252.12 L559.55,252.12 L566.48,252.12 L573.41,249.48 L580.34,244.35 L587.27,239.72 L594.20,241.38 L601.13,246.67 L608.06,250.14 L614.99,250.97 L621.92,251.63 L628.85,251.79 L635.78,251.79 L642.71,251.79" fill="none" stroke="#d0b0f4" stroke-width="0.65"/>
<path d="M384.10,249.59h4.40v4.40h-4.40zM389.63,249.92h4.40v4.40h-4.40zM395.16,248.44h4.40v4.40h-4.40zM400.68,247.44h4.40v4.40h-4.40zM406.21,246.95h4.40v4.40h-4.40zM411.74,245.46h4.40v4.40h-4.40zM417.27,242.65h4.40v4.40h-4.40zM422.80,238.68h4.40v4.40h-4.40zM428.32,234.05h4.40v4.40h-4.40zM433.85,230.25h4.40v4.40h-4.40zM439.38,230.25h4.40v4.40h-4.40zM444.91,234.71h4.40v4.40h-4.40zM450.44,240.50h4.40v4.40h-4.40zM455.96,245.62h4.40v4.40h-4.40zM461.49,247.44h4.40v4.40h-4.40zM467.02,249.26h4.40v4.40h-4.40zM472.55,250.42h4.40v4.40h-4.40zM478.08,250.92h4.40v4.40h-4.40zM483.60,251.25h4.40v4.40h-4.40zM489.13,251.25h4.40v4.40h-4.40zM494.66,251.25h4.40v4.40h-4.40zM500.19,251.25h4.40v4.40h-4.40zM505.72,251.25h4.40v4.40h-4.40zM511.24,251.25h4.40v4.40h-4.40zM516.77,251.25h4.40v4.40h-4.40zM522.30,251.25h4.40v4.40h-4.40zM527.83,251.25h4.40v4.40h-4.40zM533.36,251.25h4.40v4.40h-4.40zM538.88,251.25h4.40v4.40h-4.40zM544.41,251.25h4.40v4.40h-4.40zM549.94,251.08h4.40v4.40h-4.40zM555.47,250.92h4.40v4.40h-4.40zM561.00,250.59h4.40v4.40h-4.40zM566.52,249.26h4.40v4.40h-4.40zM572.05,247.11h4.40v4.40h-4.40zM577.58,244.14h4.40v4.40h-4.40zM583.11,241.16h4.40v4.40h-4.40zM588.64,241.16h4.40v4.40h-4.40zM594.16,243.64h4.40v4.40h-4.40zM599.69,246.45h4.40v4.40h-4.40zM605.22,249.59h4.40v4.40h-4.40zM610.75,250.75h4.40v4.40h-4.40zM616.28,251.08h4.40v4.40h-4.40zM621.80,251.25h4.40v4.40h-4.40zM627.33,251.25h4.40v4.40h-4.40zM632.86,251.25h4.40v4.40h-4.40zM638.39,251.25h4.40v4.40h-4.40zM643.92,251.25h4.40v4.40h-4.40z" fill="#505050"/>
<path d="M383.50,245.01a2.8,2.8 0 1,0 5.6,0a2.8,2.8 0 1,0 -5.6,0zM389.03,245.51a2.8,2.8 0 1,0 5.6,0a2.8,2.8 0 1,0 -5.6,0zM394.56,239.23a2.8,2.8 0 1,0 5.6,0a2.8,2.8 0 1,0 -5.6,0zM400.08,234.93a2.8,2.8 0 1,0 5.6,0a2.8,2.8 0 1,0 -5.6,0zM405.61,231.95a2.8,2.8 0 1,0 5.6,0a2.8,2.8 0 1,0 -5.6,0zM411.14,226.99a2.8,2.8 0 1,0 5.6,0a2.8,2.8 0 1,0 -5.6,0zM416.67,217.56a2.8,2.8 0 1,0 5.6,0a2.8,2.8 0 1,0 -5.6,0zM422.20,203.34a2.8,2.8 0 1,0 5.6,0a2.8,2.8 0 1,0 -5.6,0zM427.72,186.48a2.8,2.8 0 1,0 5.6,0a2.8,2.8 0 1,0 -5.6,0zM433.25,173.08a2.8,2.8 0 1,0 5.6,0a2.8,2.8 0 1,0 -5.6,0zM438.78,174.24a2.8,2.8 0 1,0 5.6,0a2.8,2.8 0 1,0 -5.6,0zM444.31,191.77a2.8,2.8 0 1,0 5.6,0a2.8,2.8 0 1,0 -5.6,0zM449.84,214.59a2.8,2.8 0 1,0 5.6,0a2.8,2.8 0 1,0 -5.6,0zM455.36,229.97a2.8,2.8 0 1,0 5.6,0a2.8,2.8 0 1,0 -5.6,0zM460.89,236.75a2.8,2.8 0 1,0 5.6,0a2.8,2.8 0 1,0 -5.6,0zM466.42,241.04a2.8,2.8 0 1,0 5.6,0a2.8,2.8 0 1,0 -5.6,0zM471.95,244.85a2.8,2.8 0 1,0 5.6,0a2.8,2.8 0 1,0 -5.6,0zM477.48,247.16a2.8,2.8 0 1,0 5.6,0a2.8,2.8 0 1,0 -5.6,0zM483.00,247.82a2.8,2.8 0 1,0 5.6,0a2.8,2.8 0 1,0 -5.6,0zM488.53,248.82a2.8,2.8 0 1,0 5.6,0a2.8,2.8 0 1,0 -5.6,0zM494.06,249.64a2.8,2.8 0 1,0 5.6,0a2.8,2.8 0 1,0 -5.6,0zM499.59,249.64a2.8,2.8 0 1,0 5.6,0a2.8,2.8 0 1,0 -5.6,0zM505.12,249.64a2.8,2.8 0 1,0 5.6,0a2.8,2.8 0 1,0 -5.6,0zM510.64,249.64a2.8,2.8 0 1,0 5.6,0a2.8,2.8 0 1,0 -5.6,0zM516.17,249.64a2.8,2.8 0 1,0 5.6,0a2.8,2.8 0 1,0 -5.6,0zM521.70,249.64a2.8,2.8 0 1,0 5.6,0a2.8,2.8 0 1,0 -5.6,0zM527.23,249.64a2.8,2.8 0 1,0 5.6,0a2.8,2.8 0 1,0 -5.6,0zM532.76,249.64a2.8,2.8 0 1,0 5.6,0a2.8,2.8 0 1,0 -5.6,0zM538.28,249.64a2.8,2.8 0 1,0 5.6,0a2.8,2.8 0 1,0 -5.6,0zM543.81,249.64a2.8,2.8 0 1,0 5.6,0a2.8,2.8 0 1,0 -5.6,0zM549.34,249.64a2.8,2.8 0 1,0 5.6,0a2.8,2.8 0 1,0 -5.6,0zM554.87,249.15a2.8,2.8 0 1,0 5.6,0a2.8,2.8 0 1,0 -5.6,0zM560.40,248.49a2.8,2.8 0 1,0 5.6,0a2.8,2.8 0 1,0 -5.6,0zM565.92,246.34a2.8,2.8 0 1,0 5.6,0a2.8,2.8 0 1,0 -5.6,0zM571.45,239.23a2.8,2.8 0 1,0 5.6,0a2.8,2.8 0 1,0 -5.6,0zM576.98,228.31a2.8,2.8 0 1,0 5.6,0a2.8,2.8 0 1,0 -5.6,0zM582.51,220.38a2.8,2.8 0 1,0 5.6,0a2.8,2.8 0 1,0 -5.6,0zM588.04,220.38a2.8,2.8 0 1,0 5.6,0a2.8,2.8 0 1,0 -5.6,0zM593.56,227.49a2.8,2.8 0 1,0 5.6,0a2.8,2.8 0 1,0 -5.6,0zM599.09,236.41a2.8,2.8 0 1,0 5.6,0a2.8,2.8 0 1,0 -5.6,0zM604.62,243.03a2.8,2.8 0 1,0 5.6,0a2.8,2.8 0 1,0 -5.6,0zM610.15,246.17a2.8,2.8 0 1,0 5.6,0a2.8,2.8 0 1,0 -5.6,0zM615.68,247.00a2.8,2.8 0 1,0 5.6,0a2.8,2.8 0 1,0 -5.6,0zM621.20,247.99a2.8,2.8 0 1,0 5.6,0a2.8,2.8 0 1,0 -5.6,0zM626.73,248.82a2.8,2.8 0 1,0 5.6,0a2.8,2.8 0 1,0 -5.6,0zM632.26,249.31a2.8,2.8 0 1,0 5.6,0a2.8,2.8 0 1,0 -5.6,0zM637.79,249.48a2.8,2.8 0 1,0 5.6,0a2.8,2.8 0 1,0 -5.6,0zM643.32,250.14a2.8,2.8 0 1,0 5.6,0a2.8,2.8 0 1,0 -5.6,0z" fill="#f03c3c"/>
<path d="M386.30,222.93L389.53,228.44L383.07,228.44zM391.83,222.93L395.06,228.44L388.60,228.44zM397.36,205.40L400.59,210.91L394.13,210.91zM402.88,194.16L406.11,199.66L399.65,199.66zM408.41,188.70L411.64,194.21L405.18,194.21zM413.94,173.65L417.17,179.16L410.71,179.16zM419.47,146.70L422.70,152.21L416.24,152.21zM425.00,110.15L428.23,115.66L421.77,115.66zM430.52,67.00L433.75,72.50L427.29,72.50zM436.05,33.26L439.28,38.77L432.82,38.77zM441.58,38.22L444.81,43.73L438.35,43.73zM447.11,86.67L450.34,92.18L443.88,92.18zM452.64,146.70L455.87,152.21L449.41,152.21zM458.16,187.38L461.39,192.88L454.93,192.88zM463.69,204.90L466.92,210.41L460.46,210.41zM469.22,215.98L472.45,221.49L465.99,221.49zM474.75,225.74L477.98,231.25L471.52,231.25zM480.28,232.02L483.51,237.53L477.05,237.53zM485.80,233.35L489.03,238.85L482.57,238.85zM491.33,235.16L494.56,240.67L488.10,240.67zM496.86,238.64L500.09,244.14L493.63,244.14zM502.39,239.96L505.62,245.47L499.16,245.47zM507.92,239.13L511.15,244.64L504.69,244.64zM513.44,239.96L516.67,245.47L510.21,245.47zM518.97,241.78L522.20,247.29L515.74,247.29zM524.50,242.27L527.73,247.78L521.27,247.78zM530.03,240.79L533.26,246.29L526.80,246.29zM535.56,240.79L538.79,246.29L532.33,246.29zM541.08,242.27L544.31,247.78L537.85,247.78zM546.61,242.27L549.84,247.78L543.38,247.78zM552.14,239.13L555.37,244.64L548.91,244.64zM557.67,237.64L560.90,243.15L554.44,243.15zM563.20,237.31L566.43,242.82L559.97,242.82zM568.72,231.69L571.95,237.20L565.49,237.20zM574.25,214.66L577.48,220.17L571.02,220.17zM579.78,190.19L583.01,195.70L576.55,195.70zM585.31,171.67L588.54,177.18L582.08,177.18zM590.84,171.67L594.07,177.18L587.61,177.18zM596.36,189.19L599.59,194.70L593.13,194.70zM601.89,210.36L605.12,215.87L598.66,215.87zM607.42,224.91L610.65,230.42L604.19,230.42zM612.95,231.03L616.18,236.54L609.72,236.54zM618.48,233.68L621.71,239.18L615.25,239.18zM624.00,235.66L627.23,241.17L620.77,241.17zM629.53,238.31L632.76,243.81L626.30,243.81zM635.06,240.46L638.29,245.96L631.83,245.96zM640.59,241.12L643.82,246.63L637.36,246.63zM646.12,241.45L649.35,246.96L642.89,246.96z" fill="#1f64dc"/>
<path d="M388.00,254.37L391.23,248.86L384.77,248.86zM395.93,252.71L399.16,247.20L392.70,247.20zM403.86,250.23L407.09,244.72L400.63,244.72zM411.79,246.93L415.02,241.42L408.56,241.42zM419.72,241.47L422.95,235.96L416.49,235.96zM427.65,234.85L430.88,229.35L424.42,229.35zM435.58,226.59L438.81,221.08L432.35,221.08zM443.51,231.05L446.74,225.54L440.28,225.54zM451.44,245.77L454.67,240.26L448.21,240.26zM459.37,251.06L462.60,245.55L456.14,245.55zM467.30,254.37L470.53,248.86L464.07,248.86zM475.23,256.02L478.46,250.51L472.00,250.51zM483.16,256.85L486.39,251.34L479.93,251.34zM491.09,257.18L494.32,251.67L487.86,251.67zM499.02,257.18L502.25,251.67L495.79,251.67zM506.95,257.18L510.18,251.67L503.72,251.67zM514.88,257.18L518.11,251.67L511.65,251.67zM522.81,257.18L526.04,251.67L519.58,251.67zM530.74,257.18L533.97,251.67L527.51,251.67zM538.67,257.18L541.90,251.67L535.44,251.67zM546.60,257.18L549.83,251.67L543.37,251.67zM554.53,257.18L557.76,251.67L551.30,251.67zM562.46,257.01L565.69,251.50L559.23,251.50zM570.39,256.52L573.62,251.01L567.16,251.01zM578.32,254.86L581.55,249.35L575.09,249.35zM586.25,253.04L589.48,247.54L583.02,247.54zM594.18,253.37L597.41,247.87L590.95,247.87zM602.11,255.19L605.34,249.68L598.88,249.68zM610.04,256.52L613.27,251.01L606.81,251.01zM617.97,257.01L621.20,251.50L614.74,251.50zM625.90,257.18L629.13,251.67L622.67,251.67zM633.83,257.18L637.06,251.67L630.60,251.67zM641.76,257.18L644.99,251.67L638.53,251.67z" fill="#23a064"/>
<path d="M386.30,244.85L389.11,248.16L386.30,251.46L383.50,248.16zM393.23,246.18L396.04,249.48L393.23,252.78L390.43,249.48zM400.16,242.71L402.97,246.01L400.16,249.31L397.36,246.01zM407.09,241.05L409.90,244.35L407.09,247.65L404.29,244.35zM414.02,238.08L416.82,241.38L414.02,244.68L411.21,241.38zM420.95,231.96L423.75,235.26L420.95,238.56L418.14,235.26zM427.88,223.69L430.69,226.99L427.88,230.29L425.07,226.99zM434.81,213.93L437.62,217.23L434.81,220.53L432.00,217.23zM441.74,214.26L444.55,217.56L441.74,220.86L438.94,217.56zM448.67,225.51L451.48,228.81L448.67,232.11L445.87,228.81zM455.60,237.58L458.41,240.88L455.60,244.18L452.80,240.88zM462.53,242.54L465.33,245.84L462.53,249.14L459.72,245.84zM469.46,245.68L472.27,248.98L469.46,252.28L466.66,248.98zM476.39,247.67L479.19,250.97L476.39,254.27L473.58,250.97zM483.32,248.49L486.12,251.79L483.32,255.09L480.51,251.79zM490.25,248.82L493.06,252.12L490.25,255.42L487.44,252.12zM497.18,248.82L499.99,252.12L497.18,255.42L494.38,252.12zM504.11,248.82L506.92,252.12L504.11,255.42L501.31,252.12zM511.04,248.82L513.85,252.12L511.04,255.42L508.24,252.12zM517.97,248.82L520.77,252.12L517.97,255.42L515.17,252.12zM524.90,248.82L527.70,252.12L524.90,255.42L522.10,252.12zM531.83,248.82L534.63,252.12L531.83,255.42L529.03,252.12zM538.76,248.82L541.56,252.12L538.76,255.42L535.96,252.12zM545.69,248.82L548.50,252.12L545.69,255.42L542.89,252.12zM552.62,248.82L555.42,252.12L552.62,255.42L549.82,252.12zM559.55,248.82L562.35,252.12L559.55,255.42L556.75,252.12zM566.48,248.82L569.28,252.12L566.48,255.42L563.68,252.12zM573.41,246.18L576.21,249.48L573.41,252.78L570.61,249.48zM580.34,241.05L583.14,244.35L580.34,247.65L577.54,244.35zM587.27,236.42L590.07,239.72L587.27,243.02L584.47,239.72zM594.20,238.08L597.00,241.38L594.20,244.68L591.40,241.38zM601.13,243.37L603.93,246.67L601.13,249.97L598.33,246.67zM608.06,246.84L610.86,250.14L608.06,253.44L605.25,250.14zM614.99,247.67L617.79,250.97L614.99,254.27L612.19,250.97zM621.92,248.33L624.73,251.63L621.92,254.93L619.12,251.63zM628.85,248.49L631.65,251.79L628.85,255.09L626.05,251.79zM635.78,248.49L638.58,251.79L635.78,255.09L632.98,251.79zM642.71,248.49L645.51,251.79L642.71,255.09L639.91,251.79z" fill="#a064dc"/>
</g>
<rect x="381.2" y="23.6" width="271.40000000000003" height="231.5" fill="none" stroke="#333" stroke-width="1.3"/>
<path d="M385.50,255.1v-3M385.50,23.6v3M409.35,255.1v-2M409.35,23.6v2M433.20,255.1v-3M433.20,23.6v3M457.05,255.1v-2M457.05,23.6v2M480.90,255.1v-3M480.90,23.6v3M504.75,255.1v-2M504.75,23.6v2M528.60,255.1v-3M528.60,23.6v3M552.45,255.1v-2M552.45,23.6v2M576.30,255.1v-3M576.30,23.6v3M600.15,255.1v-2M600.15,23.6v2M624.00,255.1v-3M624.00,23.6v3M647.85,255.1v-2M647.85,23.6v2M381.2,255.10h3M652.6,255.10h-3M381.2,238.56h2M652.6,238.56h-2M381.2,222.03h3M652.6,222.03h-3M381.2,205.49h2M652.6,205.49h-2M381.2,188.96h3M652.6,188.96h-3M381.2,172.42h2M652.6,172.42h-2M381.2,155.89h3M652.6,155.89h-3M381.2,139.35h2M652.6,139.35h-2M381.2,122.81h3M652.6,122.81h-3M381.2,106.28h2M652.6,106.28h-2M381.2,89.74h3M652.6,89.74h-3M381.2,73.21h2M652.6,73.21h-2M381.2,56.67h3M652.6,56.67h-3M381.2,40.14h2M652.6,40.14h-2M381.2,23.60h3M652.6,23.60h-3" stroke="#333" stroke-width="0.9"/>
<text x="385.50" y="269.00" font-size="14.5" text-anchor="middle" fill="#222" stroke="#222" stroke-width="0.2" >3.4</text>
<text x="433.20" y="269.00" font-size="14.5" text-anchor="middle" fill="#222" stroke="#222" stroke-width="0.2" >3.5</text>
<text x="480.90" y="269.00" font-size="14.5" text-anchor="middle" fill="#222" stroke="#222" stroke-width="0.2" >3.6</text>
<text x="528.60" y="269.00" font-size="14.5" text-anchor="middle" fill="#222" stroke="#222" stroke-width="0.2" >3.7</text>
<text x="576.30" y="269.00" font-size="14.5" text-anchor="middle" fill="#222" stroke="#222" stroke-width="0.2" >3.8</text>
<text x="624.00" y="269.00" font-size="14.5" text-anchor="middle" fill="#222" stroke="#222" stroke-width="0.2" >3.9</text>
<text x="379.00" y="260.10" font-size="14.5" text-anchor="end" fill="#222" stroke="#222" stroke-width="0.2" >0</text>
<text x="379.00" y="227.03" font-size="14.5" text-anchor="end" fill="#222" stroke="#222" stroke-width="0.2" >2</text>
<text x="379.00" y="193.96" font-size="14.5" text-anchor="end" fill="#222" stroke="#222" stroke-width="0.2" >4</text>
<text x="379.00" y="160.89" font-size="14.5" text-anchor="end" fill="#222" stroke="#222" stroke-width="0.2" >6</text>
<text x="379.00" y="127.81" font-size="14.5" text-anchor="end" fill="#222" stroke="#222" stroke-width="0.2" >8</text>
<text x="379.00" y="94.74" font-size="14.5" text-anchor="end" fill="#222" stroke="#222" stroke-width="0.2" >10</text>
<text x="379.00" y="61.67" font-size="14.5" text-anchor="end" fill="#222" stroke="#222" stroke-width="0.2" >12</text>
<text x="379.00" y="28.60" font-size="14.5" text-anchor="end" fill="#222" stroke="#222" stroke-width="0.2" >14</text>
<text x="517.00" y="283.00" font-size="14.8" text-anchor="middle" fill="#222" stroke="#222" stroke-width="0.2" textLength="101.50" lengthAdjust="spacingAndGlyphs" >Wavelength(μm)</text>
<text x="0" y="0" font-size="15" text-anchor="middle" fill="#222" stroke="#222" stroke-width="0.2" transform="translate(360.2,138.4) rotate(-90)" textLength="137" lengthAdjust="spacingAndGlyphs">Scattering Power(a.u.)</text>
<text x="340.60" y="38.20" font-size="20" text-anchor="start" fill="#222" stroke="#222" stroke-width="0.2" textLength="21.60" lengthAdjust="spacingAndGlyphs" >(b)</text>
<text x="382.50" y="19.30" font-size="13.5" text-anchor="start" fill="#222" stroke="#222" stroke-width="0.2" textLength="21.60" lengthAdjust="spacingAndGlyphs" >×10</text>
<text x="405.00" y="13.80" font-size="10" text-anchor="start" fill="#222" stroke="#222" stroke-width="0.2" textLength="12.00" lengthAdjust="spacingAndGlyphs" >-11</text>
<path d="M590,45.9H616" stroke="#a0a0a0" stroke-width="0.8"/>
<path d="M601.02,43.92h3.96v3.96h-3.96z" fill="#505050"/>
<path d="M590,64.6H616" stroke="#f29a9a" stroke-width="0.8"/>
<path d="M600.48,64.60a2.52,2.52 0 1,0 5.04,0a2.52,2.52 0 1,0 -5.04,0z" fill="#f03c3c"/>
<path d="M590,82.8H616" stroke="#82aaee" stroke-width="0.8"/>
<path d="M603.00,79.74L605.91,84.70L600.09,84.70z" fill="#1f64dc"/>
<path d="M590,102.0H616" stroke="#80d0a8" stroke-width="0.8"/>
<path d="M603.00,105.06L605.91,100.10L600.09,100.10z" fill="#23a064"/>
<path d="M590,124.5H616" stroke="#d0b0f4" stroke-width="0.8"/>
<path d="M603.00,121.53L605.52,124.50L603.00,127.47L600.48,124.50z" fill="#a064dc"/>
<text x="619.60" y="50.50" font-size="14" text-anchor="start" fill="#222" stroke="#222" stroke-width="0.2" >P</text>
<text x="620.00" y="69.20" font-size="14" text-anchor="start" fill="#222" stroke="#222" stroke-width="0.2" >M</text>
<text x="620.00" y="87.40" font-size="14" text-anchor="start" fill="#222" stroke="#222" stroke-width="0.2" >T</text>
<text x="620.00" y="106.60" font-size="14" text-anchor="start" fill="#222" stroke="#222" stroke-width="0.2" >Q</text>
<text x="630.50" y="110.00" font-size="10" text-anchor="start" fill="#222" stroke="#222" stroke-width="0.2" >e</text>
<text x="620.00" y="129.00" font-size="14" text-anchor="start" fill="#222" stroke="#222" stroke-width="0.2" >Q</text>
<text x="630.50" y="132.50" font-size="10" text-anchor="start" fill="#222" stroke="#222" stroke-width="0.2" >m</text>
<circle cx="807.7" cy="141.4" r="11.00" fill="none" stroke="#c4c4c4" stroke-width="0.7"/><circle cx="807.7" cy="141.4" r="21.50" fill="none" stroke="#c4c4c4" stroke-width="0.7"/><circle cx="807.7" cy="141.4" r="32.00" fill="none" stroke="#c4c4c4" stroke-width="0.7"/><circle cx="807.7" cy="141.4" r="42.50" fill="none" stroke="#c4c4c4" stroke-width="0.7"/><circle cx="807.7" cy="141.4" r="53.00" fill="none" stroke="#c4c4c4" stroke-width="0.7"/><circle cx="807.7" cy="141.4" r="63.50" fill="none" stroke="#c4c4c4" stroke-width="0.7"/><circle cx="807.7" cy="141.4" r="74.00" fill="none" stroke="#c4c4c4" stroke-width="0.7"/><circle cx="807.7" cy="141.4" r="84.50" fill="none" stroke="#c4c4c4" stroke-width="0.7"/><circle cx="807.7" cy="141.4" r="95.00" fill="none" stroke="#c4c4c4" stroke-width="0.7"/>
<path d="M809.70,141.40L908.90,141.40M809.43,140.40L895.34,90.80M808.70,139.67L858.30,53.76M807.70,139.40L807.70,40.20M806.70,139.67L757.10,53.76M805.97,140.40L720.06,90.80M805.70,141.40L706.50,141.40M805.97,142.40L720.06,192.00M806.70,143.13L757.10,229.04M807.70,143.40L807.70,242.60M808.70,143.13L858.30,229.04M809.43,142.40L895.34,192.00" stroke="#c4c4c4" stroke-width="0.7"/>
<circle cx="807.7" cy="141.4" r="101.2" fill="none" stroke="#8a8a8a" stroke-width="0.9"/>
<path d="M755.90,66.00 L761.60,61.00 L772.40,55.90 L778.90,53.70 L786.90,52.60 L799.80,52.60 L807.80,52.70 L815.00,53.00 L828.00,54.50 L835.20,55.90 L842.40,58.80 L854.60,65.30 L858.90,71.80 L862.50,76.80 L864.00,89.80 L863.30,97.70 L861.50,106.90 L856.20,118.50 L852.30,125.40 L847.70,131.50 L843.50,141.00 L846.90,149.20 L851.50,156.20 L856.20,162.30 L860.00,170.00 L863.10,180.80 L866.20,187.70 L864.50,196.00 L863.10,201.50 L858.50,207.70 L852.30,213.80 L841.50,217.00 L833.80,217.70 L826.20,218.20 L812.30,217.20 L804.60,216.90 L796.90,216.50 L784.60,215.40 L776.90,213.80 L769.20,209.50 L760.00,201.40 L756.50,194.50 L755.40,188.80 L756.50,173.80 L758.80,168.00 L764.60,162.20 L772.70,148.40 L775.00,142.70 L771.50,138.00 L762.30,125.40 L758.80,118.40 L755.40,109.20 L751.50,101.30 L749.40,93.40 L748.70,85.50 L750.80,73.90Z" fill="none" stroke="#4a4a4a" stroke-width="2.6" stroke-dasharray="13 4.5 2.2 4.5" stroke-dashoffset="11.5" stroke-linejoin="round"/>
<path d="M788.50,147.50 C787.98,145.58 786.27,143.93 784.60,142.30 C782.93,140.67 780.68,139.50 778.50,137.70 C776.32,135.90 773.68,134.07 771.50,131.50 C769.32,128.93 766.93,125.37 765.40,122.30 C763.87,119.23 762.82,116.43 762.30,113.10 C761.78,109.77 761.92,105.38 762.30,102.30 C762.68,99.22 763.18,96.78 764.60,94.60 C766.02,92.42 768.23,90.43 770.80,89.20 C773.37,87.97 776.93,87.37 780.00,87.20 C783.07,87.03 785.62,87.60 789.20,88.20 C792.78,88.80 797.40,90.03 801.50,90.80 C805.60,91.57 809.95,92.17 813.80,92.80 C817.65,93.43 821.65,93.65 824.60,94.60 C827.55,95.55 829.70,96.70 831.50,98.50 C833.30,100.30 834.62,102.72 835.40,105.40 C836.18,108.08 836.47,111.53 836.20,114.60 C835.93,117.67 834.83,120.72 833.80,123.80 C832.77,126.88 830.72,130.65 830.00,133.10 C829.28,135.55 829.00,136.93 829.50,138.50 C830.00,140.07 831.50,141.00 833.00,142.50 C834.50,144.00 836.82,145.62 838.50,147.50 C840.18,149.38 841.18,151.20 843.10,153.80 C845.02,156.40 848.22,160.02 850.00,163.10 C851.78,166.18 853.03,168.97 853.80,172.30 C854.57,175.63 854.85,179.77 854.60,183.10 C854.35,186.43 853.70,189.62 852.30,192.30 C850.90,194.98 848.77,197.40 846.20,199.20 C843.63,201.00 841.02,202.33 836.90,203.10 C832.78,203.87 826.62,203.93 821.50,203.80 C816.38,203.67 810.82,202.93 806.20,202.30 C801.58,201.67 797.40,201.42 793.80,200.00 C790.20,198.58 786.90,196.37 784.60,193.80 C782.30,191.23 780.82,187.93 780.00,184.60 C779.18,181.27 779.18,177.38 779.70,173.80 C780.22,170.22 781.77,166.43 783.10,163.10 C784.43,159.77 786.80,156.40 787.70,153.80 C788.60,151.20 789.02,149.42 788.50,147.50Z" fill="none" stroke="#e8383c" stroke-width="2.5"/>
<text x="808.00" y="34.90" font-size="12.2" text-anchor="middle" fill="#2a2a2a" stroke="#2a2a2a" stroke-width="0.2" >90</text>
<text x="746.10" y="49.70" font-size="12.2" text-anchor="middle" fill="#2a2a2a" stroke="#2a2a2a" stroke-width="0.2" >120</text>
<text x="866.30" y="49.40" font-size="12.2" text-anchor="middle" fill="#2a2a2a" stroke="#2a2a2a" stroke-width="0.2" >60</text>
<text x="709.50" y="87.60" font-size="12.2" text-anchor="middle" fill="#2a2a2a" stroke="#2a2a2a" stroke-width="0.2" >150</text>
<text x="904.10" y="86.80" font-size="12.2" text-anchor="middle" fill="#2a2a2a" stroke="#2a2a2a" stroke-width="0.2" >30</text>
<text x="696.60" y="146.80" font-size="12.2" text-anchor="middle" fill="#2a2a2a" stroke="#2a2a2a" stroke-width="0.2" >180</text>
<text x="913.40" y="146.80" font-size="12.2" text-anchor="middle" fill="#2a2a2a" stroke="#2a2a2a" stroke-width="0.2" >0</text>
<text x="708.50" y="205.40" font-size="12.2" text-anchor="middle" fill="#2a2a2a" stroke="#2a2a2a" stroke-width="0.2" >210</text>
<text x="907.10" y="205.50" font-size="12.2" text-anchor="middle" fill="#2a2a2a" stroke="#2a2a2a" stroke-width="0.2" >330</text>
<text x="747.00" y="242.90" font-size="12.2" text-anchor="middle" fill="#2a2a2a" stroke="#2a2a2a" stroke-width="0.2" >240</text>
<text x="869.10" y="242.60" font-size="12.2" text-anchor="middle" fill="#2a2a2a" stroke="#2a2a2a" stroke-width="0.2" >300</text>
<text x="807.70" y="256.90" font-size="12.2" text-anchor="middle" fill="#2a2a2a" stroke="#2a2a2a" stroke-width="0.2" >270</text>
<text x="671.00" y="40.80" font-size="20" text-anchor="start" fill="#222" stroke="#222" stroke-width="0.2" textLength="20.30" lengthAdjust="spacingAndGlyphs" >(c)</text>
<path d="M929.8,39.4V243.2M929.8,39.40h3M929.8,49.59h2M929.8,59.78h2M929.8,69.97h2M929.8,80.16h2M929.8,90.35h3M929.8,100.54h2M929.8,110.73h2M929.8,120.92h2M929.8,131.11h2M929.8,141.30h3M929.8,151.49h2M929.8,161.68h2M929.8,171.87h2M929.8,182.06h2M929.8,192.25h3M929.8,202.44h2M929.8,212.63h2M929.8,222.82h2M929.8,233.01h2M929.8,243.20h3" stroke="#555" stroke-width="0.9"/>
<text x="935.50" y="45.00" font-size="12.2" text-anchor="start" fill="#2a2a2a" stroke="#2a2a2a" stroke-width="0.2" textLength="15.00" lengthAdjust="spacingAndGlyphs" >1.0</text>
<text x="935.50" y="87.40" font-size="12.2" text-anchor="start" fill="#2a2a2a" stroke="#2a2a2a" stroke-width="0.2" textLength="15.00" lengthAdjust="spacingAndGlyphs" >0.5</text>
<text x="935.50" y="146.90" font-size="12.2" text-anchor="start" fill="#2a2a2a" stroke="#2a2a2a" stroke-width="0.2" textLength="15.00" lengthAdjust="spacingAndGlyphs" >0.0</text>
<text x="935.50" y="205.80" font-size="12.2" text-anchor="start" fill="#2a2a2a" stroke="#2a2a2a" stroke-width="0.2" textLength="15.00" lengthAdjust="spacingAndGlyphs" >0.5</text>
<text x="935.50" y="247.20" font-size="12.2" text-anchor="start" fill="#2a2a2a" stroke="#2a2a2a" stroke-width="0.2" textLength="15.00" lengthAdjust="spacingAndGlyphs" >1.0</text>
<text x="0" y="0" font-size="12.2" text-anchor="middle" fill="#2a2a2a" stroke="#2a2a2a" stroke-width="0.2" transform="translate(959.5,144.2) rotate(90)" textLength="59.6" lengthAdjust="spacingAndGlyphs">Reflectance</text>
<path d="M656.3,225.4H669.3" stroke="#4a4a4a" stroke-width="2.6"/>
<path d="M675.4,225.4H677.6" stroke="#4a4a4a" stroke-width="2.6"/>
<path d="M656.3,243.5H680.9" stroke="#e8383c" stroke-width="2.5"/>
<text x="682.80" y="229.60" font-size="12.2" text-anchor="start" fill="#2a2a2a" stroke="#2a2a2a" stroke-width="0.2" textLength="39.40" lengthAdjust="spacingAndGlyphs" >3.82μm</text>
<text x="683.80" y="247.40" font-size="12.2" text-anchor="start" fill="#2a2a2a" stroke="#2a2a2a" stroke-width="0.2" textLength="38.90" lengthAdjust="spacingAndGlyphs" >3.51μm</text>
<path d="M919.3,260V232M920.5,259.9H896" stroke="#000" stroke-width="2.2" fill="none"/>
<path d="M919.3,222.2L924.6,233.5L913.9,233.5Z" fill="#000"/>
<path d="M886.3,259.9L897.5,254.5L897.5,265.3Z" fill="#000"/>
<text x="902.80" y="226.20" font-size="17.5" text-anchor="start" fill="#222" stroke="#222" stroke-width="0.2" font-style="italic" >y</text>
<text x="871.00" y="262.40" font-size="17.5" text-anchor="start" fill="#222" stroke="#222" stroke-width="0.2" font-style="italic" >x</text>
<defs><clipPath id="cd"><rect x="52.7" y="316.0" width="178.3" height="171.2"/></clipPath><linearGradient id="gd" x1="0" x2="1" y1="0" y2="0"><stop offset="0" stop-color="rgb(0,18,222)"/><stop offset="0.2" stop-color="rgb(0,22,228)"/><stop offset="0.3" stop-color="rgb(0,8,200)"/><stop offset="0.5" stop-color="rgb(0,18,220)"/><stop offset="0.65" stop-color="rgb(0,8,196)"/><stop offset="0.78" stop-color="rgb(0,20,226)"/><stop offset="0.9" stop-color="rgb(0,38,250)"/><stop offset="1" stop-color="rgb(0,34,248)"/></linearGradient><radialGradient id="gdi" cx="161" cy="401.3" r="48" gradientUnits="userSpaceOnUse"><stop offset="0" stop-color="rgb(70,200,255)"/><stop offset="0.1" stop-color="rgb(0,130,255)"/><stop offset="0.35" stop-color="rgb(0,55,245)"/><stop offset="1" stop-color="rgb(0,18,215)"/></radialGradient></defs>
<g clip-path="url(#cd)">
<rect x="52.70" y="316.00" width="178.30" height="171.20" fill="url(#gd)"/>
<defs><radialGradient id="eg0"><stop offset="0.000" stop-color="rgb(0,0,150)" stop-opacity="0.982"/><stop offset="0.083" stop-color="rgb(0,0,150)" stop-opacity="0.955"/><stop offset="0.167" stop-color="rgb(0,0,150)" stop-opacity="0.904"/><stop offset="0.250" stop-color="rgb(0,0,150)" stop-opacity="0.820"/><stop offset="0.333" stop-color="rgb(0,0,150)" stop-opacity="0.699"/><stop offset="0.417" stop-color="rgb(0,0,150)" stop-opacity="0.552"/><stop offset="0.500" stop-color="rgb(0,0,150)" stop-opacity="0.397"/><stop offset="0.583" stop-color="rgb(0,0,150)" stop-opacity="0.257"/><stop offset="0.667" stop-color="rgb(0,0,150)" stop-opacity="0.148"/><stop offset="0.750" stop-color="rgb(0,0,150)" stop-opacity="0.076"/><stop offset="0.833" stop-color="rgb(0,0,150)" stop-opacity="0.034"/><stop offset="0.917" stop-color="rgb(0,0,150)" stop-opacity="0.013"/><stop offset="1.000" stop-color="rgb(0,0,150)" stop-opacity="0.000"/></radialGradient></defs>
<ellipse cx="86.00" cy="402.00" rx="22.00" ry="25.00" fill="url(#eg0)"/>
<defs><radialGradient id="eg1"><stop offset="0.000" stop-color="rgb(0,0,190)" stop-opacity="0.997"/><stop offset="0.083" stop-color="rgb(0,0,190)" stop-opacity="0.991"/><stop offset="0.167" stop-color="rgb(0,0,190)" stop-opacity="0.971"/><stop offset="0.250" stop-color="rgb(0,0,190)" stop-opacity="0.925"/><stop offset="0.333" stop-color="rgb(0,0,190)" stop-opacity="0.837"/><stop offset="0.417" stop-color="rgb(0,0,190)" stop-opacity="0.700"/><stop offset="0.500" stop-color="rgb(0,0,190)" stop-opacity="0.528"/><stop offset="0.583" stop-color="rgb(0,0,190)" stop-opacity="0.349"/><stop offset="0.667" stop-color="rgb(0,0,190)" stop-opacity="0.200"/><stop offset="0.750" stop-color="rgb(0,0,190)" stop-opacity="0.097"/><stop offset="0.833" stop-color="rgb(0,0,190)" stop-opacity="0.040"/><stop offset="0.917" stop-color="rgb(0,0,190)" stop-opacity="0.013"/><stop offset="1.000" stop-color="rgb(0,0,190)" stop-opacity="0.000"/></radialGradient></defs>
<ellipse cx="58.00" cy="322.00" rx="50.80" ry="36.80" fill="url(#eg1)"/>
<defs><radialGradient id="eg2"><stop offset="0.000" stop-color="rgb(0,0,175)" stop-opacity="0.999"/><stop offset="0.083" stop-color="rgb(0,0,175)" stop-opacity="0.996"/><stop offset="0.167" stop-color="rgb(0,0,175)" stop-opacity="0.986"/><stop offset="0.250" stop-color="rgb(0,0,175)" stop-opacity="0.956"/><stop offset="0.333" stop-color="rgb(0,0,175)" stop-opacity="0.889"/><stop offset="0.417" stop-color="rgb(0,0,175)" stop-opacity="0.769"/><stop offset="0.500" stop-color="rgb(0,0,175)" stop-opacity="0.597"/><stop offset="0.583" stop-color="rgb(0,0,175)" stop-opacity="0.405"/><stop offset="0.667" stop-color="rgb(0,0,175)" stop-opacity="0.233"/><stop offset="0.750" stop-color="rgb(0,0,175)" stop-opacity="0.112"/><stop offset="0.833" stop-color="rgb(0,0,175)" stop-opacity="0.044"/><stop offset="0.917" stop-color="rgb(0,0,175)" stop-opacity="0.014"/><stop offset="1.000" stop-color="rgb(0,0,175)" stop-opacity="0.000"/></radialGradient></defs>
<ellipse cx="58.00" cy="485.00" rx="54.80" ry="38.80" fill="url(#eg2)"/>
<defs><radialGradient id="eg3"><stop offset="0.000" stop-color="rgb(0,0,190)" stop-opacity="1.000"/><stop offset="0.083" stop-color="rgb(0,0,190)" stop-opacity="1.000"/><stop offset="0.167" stop-color="rgb(0,0,190)" stop-opacity="0.999"/><stop offset="0.250" stop-color="rgb(0,0,190)" stop-opacity="0.993"/><stop offset="0.333" stop-color="rgb(0,0,190)" stop-opacity="0.968"/><stop offset="0.417" stop-color="rgb(0,0,190)" stop-opacity="0.888"/><stop offset="0.500" stop-color="rgb(0,0,190)" stop-opacity="0.719"/><stop offset="0.583" stop-color="rgb(0,0,190)" stop-opacity="0.479"/><stop offset="0.667" stop-color="rgb(0,0,190)" stop-opacity="0.246"/><stop offset="0.750" stop-color="rgb(0,0,190)" stop-opacity="0.094"/><stop offset="0.833" stop-color="rgb(0,0,190)" stop-opacity="0.025"/><stop offset="0.917" stop-color="rgb(0,0,190)" stop-opacity="0.005"/><stop offset="1.000" stop-color="rgb(0,0,190)" stop-opacity="0.000"/></radialGradient></defs>
<ellipse cx="140.00" cy="485.00" rx="65.60" ry="25.60" fill="url(#eg3)"/>
<defs><radialGradient id="eg4"><stop offset="0.000" stop-color="rgb(0,70,255)" stop-opacity="1.000"/><stop offset="0.083" stop-color="rgb(0,70,255)" stop-opacity="1.000"/><stop offset="0.167" stop-color="rgb(0,70,255)" stop-opacity="1.000"/><stop offset="0.250" stop-color="rgb(0,70,255)" stop-opacity="0.999"/><stop offset="0.333" stop-color="rgb(0,70,255)" stop-opacity="0.992"/><stop offset="0.417" stop-color="rgb(0,70,255)" stop-opacity="0.963"/><stop offset="0.500" stop-color="rgb(0,70,255)" stop-opacity="0.876"/><stop offset="0.583" stop-color="rgb(0,70,255)" stop-opacity="0.699"/><stop offset="0.667" stop-color="rgb(0,70,255)" stop-opacity="0.455"/><stop offset="0.750" stop-color="rgb(0,70,255)" stop-opacity="0.228"/><stop offset="0.833" stop-color="rgb(0,70,255)" stop-opacity="0.084"/><stop offset="0.917" stop-color="rgb(0,70,255)" stop-opacity="0.022"/><stop offset="1.000" stop-color="rgb(0,70,255)" stop-opacity="0.000"/></radialGradient></defs>
<ellipse cx="93.00" cy="355.30" rx="26.40" ry="34.40" fill="url(#eg4)"/>
<defs><radialGradient id="eg5"><stop offset="0.000" stop-color="rgb(0,130,255)" stop-opacity="1.000"/><stop offset="0.083" stop-color="rgb(0,130,255)" stop-opacity="1.000"/><stop offset="0.167" stop-color="rgb(0,130,255)" stop-opacity="1.000"/><stop offset="0.250" stop-color="rgb(0,130,255)" stop-opacity="0.997"/><stop offset="0.333" stop-color="rgb(0,130,255)" stop-opacity="0.986"/><stop offset="0.417" stop-color="rgb(0,130,255)" stop-opacity="0.944"/><stop offset="0.500" stop-color="rgb(0,130,255)" stop-opacity="0.837"/><stop offset="0.583" stop-color="rgb(0,130,255)" stop-opacity="0.647"/><stop offset="0.667" stop-color="rgb(0,130,255)" stop-opacity="0.410"/><stop offset="0.750" stop-color="rgb(0,130,255)" stop-opacity="0.202"/><stop offset="0.833" stop-color="rgb(0,130,255)" stop-opacity="0.075"/><stop offset="0.917" stop-color="rgb(0,130,255)" stop-opacity="0.020"/><stop offset="1.000" stop-color="rgb(0,130,255)" stop-opacity="0.000"/></radialGradient></defs>
<ellipse cx="94.00" cy="353.30" rx="18.80" ry="24.80" fill="url(#eg5)"/>
<defs><radialGradient id="eg6"><stop offset="0.000" stop-color="rgb(0,225,255)" stop-opacity="1.000"/><stop offset="0.083" stop-color="rgb(0,225,255)" stop-opacity="1.000"/><stop offset="0.167" stop-color="rgb(0,225,255)" stop-opacity="1.000"/><stop offset="0.250" stop-color="rgb(0,225,255)" stop-opacity="0.997"/><stop offset="0.333" stop-color="rgb(0,225,255)" stop-opacity="0.985"/><stop offset="0.417" stop-color="rgb(0,225,255)" stop-opacity="0.942"/><stop offset="0.500" stop-color="rgb(0,225,255)" stop-opacity="0.835"/><stop offset="0.583" stop-color="rgb(0,225,255)" stop-opacity="0.645"/><stop offset="0.667" stop-color="rgb(0,225,255)" stop-opacity="0.409"/><stop offset="0.750" stop-color="rgb(0,225,255)" stop-opacity="0.203"/><stop offset="0.833" stop-color="rgb(0,225,255)" stop-opacity="0.076"/><stop offset="0.917" stop-color="rgb(0,225,255)" stop-opacity="0.021"/><stop offset="1.000" stop-color="rgb(0,225,255)" stop-opacity="0.000"/></radialGradient></defs>
<ellipse cx="94.50" cy="352.10" rx="12.70" ry="16.20" fill="url(#eg6)"/>
<defs><radialGradient id="eg7"><stop offset="0.000" stop-color="rgb(170,255,80)" stop-opacity="1.000"/><stop offset="0.083" stop-color="rgb(170,255,80)" stop-opacity="1.000"/><stop offset="0.167" stop-color="rgb(170,255,80)" stop-opacity="1.000"/><stop offset="0.250" stop-color="rgb(170,255,80)" stop-opacity="0.997"/><stop offset="0.333" stop-color="rgb(170,255,80)" stop-opacity="0.984"/><stop offset="0.417" stop-color="rgb(170,255,80)" stop-opacity="0.938"/><stop offset="0.500" stop-color="rgb(170,255,80)" stop-opacity="0.828"/><stop offset="0.583" stop-color="rgb(170,255,80)" stop-opacity="0.637"/><stop offset="0.667" stop-color="rgb(170,255,80)" stop-opacity="0.403"/><stop offset="0.750" stop-color="rgb(170,255,80)" stop-opacity="0.200"/><stop offset="0.833" stop-color="rgb(170,255,80)" stop-opacity="0.076"/><stop offset="0.917" stop-color="rgb(170,255,80)" stop-opacity="0.021"/><stop offset="1.000" stop-color="rgb(170,255,80)" stop-opacity="0.000"/></radialGradient></defs>
<ellipse cx="95.00" cy="350.80" rx="8.38" ry="10.18" fill="url(#eg7)"/>
<defs><filter id="bl0" filterUnits="userSpaceOnUse" x="0" y="0" width="977" height="520"><feGaussianBlur stdDeviation="1.0"/></filter></defs>
<ellipse cx="95.10" cy="350.20" rx="3.80" ry="4.80" fill="rgb(255,225,0)" filter="url(#bl0)"/>
<defs><filter id="bl1" filterUnits="userSpaceOnUse" x="0" y="0" width="977" height="520"><feGaussianBlur stdDeviation="0.8"/></filter></defs>
<ellipse cx="95.20" cy="349.80" rx="2.70" ry="3.30" fill="rgb(255,120,0)" filter="url(#bl1)"/>
<defs><filter id="bl2" filterUnits="userSpaceOnUse" x="0" y="0" width="977" height="520"><feGaussianBlur stdDeviation="0.6"/></filter></defs>
<ellipse cx="95.30" cy="349.40" rx="1.80" ry="2.20" fill="rgb(225,10,0)" filter="url(#bl2)"/>
<defs><filter id="bl3" filterUnits="userSpaceOnUse" x="0" y="0" width="977" height="520"><feGaussianBlur stdDeviation="0.4"/></filter></defs>
<ellipse cx="95.40" cy="349.30" rx="0.90" ry="1.10" fill="rgb(140,0,0)" filter="url(#bl3)"/>
<defs><radialGradient id="eg8"><stop offset="0.000" stop-color="rgb(0,70,255)" stop-opacity="1.000"/><stop offset="0.083" stop-color="rgb(0,70,255)" stop-opacity="1.000"/><stop offset="0.167" stop-color="rgb(0,70,255)" stop-opacity="1.000"/><stop offset="0.250" stop-color="rgb(0,70,255)" stop-opacity="0.999"/><stop offset="0.333" stop-color="rgb(0,70,255)" stop-opacity="0.992"/><stop offset="0.417" stop-color="rgb(0,70,255)" stop-opacity="0.963"/><stop offset="0.500" stop-color="rgb(0,70,255)" stop-opacity="0.876"/><stop offset="0.583" stop-color="rgb(0,70,255)" stop-opacity="0.699"/><stop offset="0.667" stop-color="rgb(0,70,255)" stop-opacity="0.455"/><stop offset="0.750" stop-color="rgb(0,70,255)" stop-opacity="0.228"/><stop offset="0.833" stop-color="rgb(0,70,255)" stop-opacity="0.084"/><stop offset="0.917" stop-color="rgb(0,70,255)" stop-opacity="0.022"/><stop offset="1.000" stop-color="rgb(0,70,255)" stop-opacity="0.000"/></radialGradient></defs>
<ellipse cx="93.00" cy="447.60" rx="26.40" ry="34.40" fill="url(#eg8)"/>
<defs><radialGradient id="eg9"><stop offset="0.000" stop-color="rgb(0,130,255)" stop-opacity="1.000"/><stop offset="0.083" stop-color="rgb(0,130,255)" stop-opacity="1.000"/><stop offset="0.167" stop-color="rgb(0,130,255)" stop-opacity="1.000"/><stop offset="0.250" stop-color="rgb(0,130,255)" stop-opacity="0.997"/><stop offset="0.333" stop-color="rgb(0,130,255)" stop-opacity="0.986"/><stop offset="0.417" stop-color="rgb(0,130,255)" stop-opacity="0.944"/><stop offset="0.500" stop-color="rgb(0,130,255)" stop-opacity="0.837"/><stop offset="0.583" stop-color="rgb(0,130,255)" stop-opacity="0.647"/><stop offset="0.667" stop-color="rgb(0,130,255)" stop-opacity="0.410"/><stop offset="0.750" stop-color="rgb(0,130,255)" stop-opacity="0.202"/><stop offset="0.833" stop-color="rgb(0,130,255)" stop-opacity="0.075"/><stop offset="0.917" stop-color="rgb(0,130,255)" stop-opacity="0.020"/><stop offset="1.000" stop-color="rgb(0,130,255)" stop-opacity="0.000"/></radialGradient></defs>
<ellipse cx="94.00" cy="449.60" rx="18.80" ry="24.80" fill="url(#eg9)"/>
<defs><radialGradient id="eg10"><stop offset="0.000" stop-color="rgb(0,225,255)" stop-opacity="1.000"/><stop offset="0.083" stop-color="rgb(0,225,255)" stop-opacity="1.000"/><stop offset="0.167" stop-color="rgb(0,225,255)" stop-opacity="1.000"/><stop offset="0.250" stop-color="rgb(0,225,255)" stop-opacity="0.997"/><stop offset="0.333" stop-color="rgb(0,225,255)" stop-opacity="0.985"/><stop offset="0.417" stop-color="rgb(0,225,255)" stop-opacity="0.942"/><stop offset="0.500" stop-color="rgb(0,225,255)" stop-opacity="0.835"/><stop offset="0.583" stop-color="rgb(0,225,255)" stop-opacity="0.645"/><stop offset="0.667" stop-color="rgb(0,225,255)" stop-opacity="0.409"/><stop offset="0.750" stop-color="rgb(0,225,255)" stop-opacity="0.203"/><stop offset="0.833" stop-color="rgb(0,225,255)" stop-opacity="0.076"/><stop offset="0.917" stop-color="rgb(0,225,255)" stop-opacity="0.021"/><stop offset="1.000" stop-color="rgb(0,225,255)" stop-opacity="0.000"/></radialGradient></defs>
<ellipse cx="94.50" cy="450.80" rx="12.70" ry="16.20" fill="url(#eg10)"/>
<defs><radialGradient id="eg11"><stop offset="0.000" stop-color="rgb(170,255,80)" stop-opacity="1.000"/><stop offset="0.083" stop-color="rgb(170,255,80)" stop-opacity="1.000"/><stop offset="0.167" stop-color="rgb(170,255,80)" stop-opacity="1.000"/><stop offset="0.250" stop-color="rgb(170,255,80)" stop-opacity="0.997"/><stop offset="0.333" stop-color="rgb(170,255,80)" stop-opacity="0.984"/><stop offset="0.417" stop-color="rgb(170,255,80)" stop-opacity="0.938"/><stop offset="0.500" stop-color="rgb(170,255,80)" stop-opacity="0.828"/><stop offset="0.583" stop-color="rgb(170,255,80)" stop-opacity="0.637"/><stop offset="0.667" stop-color="rgb(170,255,80)" stop-opacity="0.403"/><stop offset="0.750" stop-color="rgb(170,255,80)" stop-opacity="0.200"/><stop offset="0.833" stop-color="rgb(170,255,80)" stop-opacity="0.076"/><stop offset="0.917" stop-color="rgb(170,255,80)" stop-opacity="0.021"/><stop offset="1.000" stop-color="rgb(170,255,80)" stop-opacity="0.000"/></radialGradient></defs>
<ellipse cx="95.00" cy="452.10" rx="8.38" ry="10.18" fill="url(#eg11)"/>
<ellipse cx="95.10" cy="452.70" rx="3.80" ry="4.80" fill="rgb(255,225,0)" filter="url(#bl0)"/>
<ellipse cx="95.20" cy="453.10" rx="2.70" ry="3.30" fill="rgb(255,120,0)" filter="url(#bl1)"/>
<ellipse cx="95.30" cy="453.50" rx="1.80" ry="2.20" fill="rgb(225,10,0)" filter="url(#bl2)"/>
<ellipse cx="95.40" cy="453.60" rx="0.90" ry="1.10" fill="rgb(140,0,0)" filter="url(#bl3)"/>
<polygon points="95.80,349.10 201.60,400.90 95.80,453.20" fill="rgb(0,10,195)" />
<defs><filter id="bl4" filterUnits="userSpaceOnUse" x="0" y="0" width="977" height="520"><feGaussianBlur stdDeviation="3"/></filter></defs>
<polygon points="97.50,355.00 195.00,401.00 97.50,447.00" fill="rgb(0,3,178)" filter="url(#bl4)" />
<polygon points="111.00,376.50 163.10,401.30 111.00,426.20" fill="url(#gdi)" />
</g>
<path d="M95.8,349.1L201.6,400.9L95.8,453.2ZM111,376.5L163.1,401.3L111,426.2ZM95.8,378.5H111M95.8,424.1H111" fill="none" stroke="#000" stroke-width="0.8" stroke-opacity="0.85"/>
<text x="61.30" y="498.60" font-size="11.8" text-anchor="middle" fill="#1e1e1e" stroke="#1e1e1e" stroke-width="0.2" >−1.2</text>
<text x="101.50" y="498.60" font-size="11.8" text-anchor="middle" fill="#1e1e1e" stroke="#1e1e1e" stroke-width="0.2" >−0.6</text>
<text x="141.80" y="498.60" font-size="11.8" text-anchor="middle" fill="#1e1e1e" stroke="#1e1e1e" stroke-width="0.2" >0.0</text>
<text x="181.90" y="498.60" font-size="11.8" text-anchor="middle" fill="#1e1e1e" stroke="#1e1e1e" stroke-width="0.2" >0.6</text>
<text x="222.00" y="498.60" font-size="11.8" text-anchor="middle" fill="#1e1e1e" stroke="#1e1e1e" stroke-width="0.2" >1.2</text>
<text x="49.50" y="332.20" font-size="11.8" text-anchor="end" fill="#555" stroke="#555" stroke-width="0.2" >1.2</text>
<text x="49.50" y="368.30" font-size="11.8" text-anchor="end" fill="#1e1e1e" stroke="#1e1e1e" stroke-width="0.2" >0.6</text>
<text x="49.50" y="405.50" font-size="11.8" text-anchor="end" fill="#1e1e1e" stroke="#1e1e1e" stroke-width="0.2" >0.0</text>
<text x="49.50" y="441.60" font-size="11.8" text-anchor="end" fill="#1e1e1e" stroke="#1e1e1e" stroke-width="0.2" >−0.6</text>
<text x="49.50" y="477.50" font-size="11.8" text-anchor="end" fill="#1e1e1e" stroke="#1e1e1e" stroke-width="0.2" >−1.2</text>
<text x="141.00" y="508.20" font-size="12.4" text-anchor="middle" fill="#1e1e1e" stroke="#1e1e1e" stroke-width="0.2" textLength="30.20" lengthAdjust="spacingAndGlyphs" >x(μm)</text>
<text x="0" y="0" font-size="12.4" text-anchor="middle" fill="#1e1e1e" stroke="#1e1e1e" stroke-width="0.2" transform="translate(29.8,402.4) rotate(-90)" textLength="29" lengthAdjust="spacingAndGlyphs">y(μm)</text>
<text x="12.10" y="339.10" font-size="20" text-anchor="start" fill="#222" stroke="#222" stroke-width="0.2" textLength="22.50" lengthAdjust="spacingAndGlyphs" >(d)</text>
<defs><clipPath id="ce"><rect x="276.0" y="314.7" width="178.8" height="171.8"/></clipPath><radialGradient id="ge" cx="368" cy="401" r="125" gradientUnits="userSpaceOnUse"><stop offset="0" stop-color="rgb(0,35,240)"/><stop offset="0.45" stop-color="rgb(0,22,222)"/><stop offset="0.75" stop-color="rgb(0,8,200)"/><stop offset="1" stop-color="rgb(0,0,182)"/></radialGradient></defs>
<g clip-path="url(#ce)">
<rect x="276.00" y="314.70" width="178.80" height="171.80" fill="url(#ge)"/>
<defs><radialGradient id="gei" cx="355" cy="402" r="30" gradientUnits="userSpaceOnUse"><stop offset="0" stop-color="rgb(0,8,185)"/><stop offset="0.5" stop-color="rgb(0,20,210)"/><stop offset="1" stop-color="rgb(0,50,245)"/></radialGradient><radialGradient id="geo" cx="350" cy="401" r="75" gradientUnits="userSpaceOnUse"><stop offset="0" stop-color="rgb(0,8,192)"/><stop offset="0.6" stop-color="rgb(0,5,188)"/><stop offset="1" stop-color="rgb(0,10,200)"/></radialGradient></defs>
<defs><filter id="bl5" filterUnits="userSpaceOnUse" x="0" y="0" width="977" height="520"><feGaussianBlur stdDeviation="5"/></filter></defs>
<polygon points="320.6,348.4 426.4,401.3 320.6,454.2" fill="none" stroke="rgb(0,75,252)" stroke-width="16" stroke-linejoin="round" stroke-opacity="0.9" filter="url(#bl5)"/>
<defs><filter id="bl6" filterUnits="userSpaceOnUse" x="0" y="0" width="977" height="520"><feGaussianBlur stdDeviation="1.6"/></filter></defs>
<polygon points="320.6,348.4 426.4,401.3 320.6,454.2" fill="none" stroke="rgb(0,130,255)" stroke-width="4" stroke-linejoin="round" stroke-opacity="0.8" filter="url(#bl6)"/>
<polygon points="320.60,348.40 426.40,401.30 320.60,454.20" fill="url(#geo)" />
<polygon points="335,375.6 387.9,401.3 335,426.5" fill="none" stroke="rgb(0,85,255)" stroke-width="12" stroke-linejoin="round" stroke-opacity="0.85" filter="url(#bl4)"/>
<defs><radialGradient id="eg12"><stop offset="0.000" stop-color="rgb(0,90,255)" stop-opacity="0.795"/><stop offset="0.083" stop-color="rgb(0,90,255)" stop-opacity="0.784"/><stop offset="0.167" stop-color="rgb(0,90,255)" stop-opacity="0.757"/><stop offset="0.250" stop-color="rgb(0,90,255)" stop-opacity="0.704"/><stop offset="0.333" stop-color="rgb(0,90,255)" stop-opacity="0.615"/><stop offset="0.417" stop-color="rgb(0,90,255)" stop-opacity="0.493"/><stop offset="0.500" stop-color="rgb(0,90,255)" stop-opacity="0.354"/><stop offset="0.583" stop-color="rgb(0,90,255)" stop-opacity="0.224"/><stop offset="0.667" stop-color="rgb(0,90,255)" stop-opacity="0.123"/><stop offset="0.750" stop-color="rgb(0,90,255)" stop-opacity="0.058"/><stop offset="0.833" stop-color="rgb(0,90,255)" stop-opacity="0.023"/><stop offset="0.917" stop-color="rgb(0,90,255)" stop-opacity="0.008"/><stop offset="1.000" stop-color="rgb(0,90,255)" stop-opacity="0.000"/></radialGradient></defs>
<ellipse cx="400.00" cy="401.30" rx="19.80" ry="11.80" fill="url(#eg12)"/>
<defs><radialGradient id="eg13"><stop offset="0.000" stop-color="rgb(0,100,255)" stop-opacity="1.000"/><stop offset="0.083" stop-color="rgb(0,100,255)" stop-opacity="1.000"/><stop offset="0.167" stop-color="rgb(0,100,255)" stop-opacity="1.000"/><stop offset="0.250" stop-color="rgb(0,100,255)" stop-opacity="0.999"/><stop offset="0.333" stop-color="rgb(0,100,255)" stop-opacity="0.994"/><stop offset="0.417" stop-color="rgb(0,100,255)" stop-opacity="0.964"/><stop offset="0.500" stop-color="rgb(0,100,255)" stop-opacity="0.859"/><stop offset="0.583" stop-color="rgb(0,100,255)" stop-opacity="0.638"/><stop offset="0.667" stop-color="rgb(0,100,255)" stop-opacity="0.356"/><stop offset="0.750" stop-color="rgb(0,100,255)" stop-opacity="0.137"/><stop offset="0.833" stop-color="rgb(0,100,255)" stop-opacity="0.035"/><stop offset="0.917" stop-color="rgb(0,100,255)" stop-opacity="0.006"/><stop offset="1.000" stop-color="rgb(0,100,255)" stop-opacity="0.000"/></radialGradient></defs>
<ellipse cx="328.00" cy="401.00" rx="14.30" ry="37.80" fill="url(#eg13)"/>
<defs><radialGradient id="eg14"><stop offset="0.000" stop-color="rgb(0,140,255)" stop-opacity="1.000"/><stop offset="0.083" stop-color="rgb(0,140,255)" stop-opacity="1.000"/><stop offset="0.167" stop-color="rgb(0,140,255)" stop-opacity="0.999"/><stop offset="0.250" stop-color="rgb(0,140,255)" stop-opacity="0.992"/><stop offset="0.333" stop-color="rgb(0,140,255)" stop-opacity="0.960"/><stop offset="0.417" stop-color="rgb(0,140,255)" stop-opacity="0.867"/><stop offset="0.500" stop-color="rgb(0,140,255)" stop-opacity="0.681"/><stop offset="0.583" stop-color="rgb(0,140,255)" stop-opacity="0.432"/><stop offset="0.667" stop-color="rgb(0,140,255)" stop-opacity="0.208"/><stop offset="0.750" stop-color="rgb(0,140,255)" stop-opacity="0.073"/><stop offset="0.833" stop-color="rgb(0,140,255)" stop-opacity="0.018"/><stop offset="0.917" stop-color="rgb(0,140,255)" stop-opacity="0.003"/><stop offset="1.000" stop-color="rgb(0,140,255)" stop-opacity="0.000"/></radialGradient></defs>
<ellipse cx="328.00" cy="401.00" rx="10.00" ry="28.50" fill="url(#eg14)"/>
<polygon points="335.00,375.60 387.90,401.30 335.00,426.50" fill="url(#gei)" />
<defs><radialGradient id="eg15"><stop offset="0.000" stop-color="rgb(0,110,255)" stop-opacity="1.000"/><stop offset="0.083" stop-color="rgb(0,110,255)" stop-opacity="0.998"/><stop offset="0.167" stop-color="rgb(0,110,255)" stop-opacity="0.992"/><stop offset="0.250" stop-color="rgb(0,110,255)" stop-opacity="0.972"/><stop offset="0.333" stop-color="rgb(0,110,255)" stop-opacity="0.921"/><stop offset="0.417" stop-color="rgb(0,110,255)" stop-opacity="0.816"/><stop offset="0.500" stop-color="rgb(0,110,255)" stop-opacity="0.653"/><stop offset="0.583" stop-color="rgb(0,110,255)" stop-opacity="0.454"/><stop offset="0.667" stop-color="rgb(0,110,255)" stop-opacity="0.266"/><stop offset="0.750" stop-color="rgb(0,110,255)" stop-opacity="0.129"/><stop offset="0.833" stop-color="rgb(0,110,255)" stop-opacity="0.050"/><stop offset="0.917" stop-color="rgb(0,110,255)" stop-opacity="0.016"/><stop offset="1.000" stop-color="rgb(0,110,255)" stop-opacity="0.000"/></radialGradient></defs>
<ellipse cx="380.00" cy="401.20" rx="17.50" ry="13.00" fill="url(#eg15)"/>
<defs><radialGradient id="eg16"><stop offset="0.000" stop-color="rgb(0,150,255)" stop-opacity="1.000"/><stop offset="0.083" stop-color="rgb(0,150,255)" stop-opacity="0.998"/><stop offset="0.167" stop-color="rgb(0,150,255)" stop-opacity="0.991"/><stop offset="0.250" stop-color="rgb(0,150,255)" stop-opacity="0.969"/><stop offset="0.333" stop-color="rgb(0,150,255)" stop-opacity="0.913"/><stop offset="0.417" stop-color="rgb(0,150,255)" stop-opacity="0.804"/><stop offset="0.500" stop-color="rgb(0,150,255)" stop-opacity="0.639"/><stop offset="0.583" stop-color="rgb(0,150,255)" stop-opacity="0.441"/><stop offset="0.667" stop-color="rgb(0,150,255)" stop-opacity="0.257"/><stop offset="0.750" stop-color="rgb(0,150,255)" stop-opacity="0.124"/><stop offset="0.833" stop-color="rgb(0,150,255)" stop-opacity="0.049"/><stop offset="0.917" stop-color="rgb(0,150,255)" stop-opacity="0.015"/><stop offset="1.000" stop-color="rgb(0,150,255)" stop-opacity="0.000"/></radialGradient></defs>
<ellipse cx="380.80" cy="401.20" rx="11.16" ry="8.16" fill="url(#eg16)"/>
<defs><filter id="bl7" filterUnits="userSpaceOnUse" x="0" y="0" width="977" height="520"><feGaussianBlur stdDeviation="1.1"/></filter></defs>
<ellipse cx="381.40" cy="401.20" rx="4.60" ry="2.80" fill="rgb(0,225,255)" filter="url(#bl7)"/>
<ellipse cx="381.80" cy="401.20" rx="2.60" ry="1.70" fill="rgb(160,255,100)" filter="url(#bl1)"/>
<defs><radialGradient id="eg17"><stop offset="0.000" stop-color="rgb(0,110,255)" stop-opacity="1.000"/><stop offset="0.083" stop-color="rgb(0,110,255)" stop-opacity="0.999"/><stop offset="0.167" stop-color="rgb(0,110,255)" stop-opacity="0.995"/><stop offset="0.250" stop-color="rgb(0,110,255)" stop-opacity="0.980"/><stop offset="0.333" stop-color="rgb(0,110,255)" stop-opacity="0.937"/><stop offset="0.417" stop-color="rgb(0,110,255)" stop-opacity="0.845"/><stop offset="0.500" stop-color="rgb(0,110,255)" stop-opacity="0.691"/><stop offset="0.583" stop-color="rgb(0,110,255)" stop-opacity="0.493"/><stop offset="0.667" stop-color="rgb(0,110,255)" stop-opacity="0.297"/><stop offset="0.750" stop-color="rgb(0,110,255)" stop-opacity="0.147"/><stop offset="0.833" stop-color="rgb(0,110,255)" stop-opacity="0.059"/><stop offset="0.917" stop-color="rgb(0,110,255)" stop-opacity="0.019"/><stop offset="1.000" stop-color="rgb(0,110,255)" stop-opacity="0.000"/></radialGradient></defs>
<ellipse cx="340.50" cy="381.60" rx="15.50" ry="15.50" fill="url(#eg17)"/>
<defs><radialGradient id="eg18"><stop offset="0.000" stop-color="rgb(0,150,255)" stop-opacity="1.000"/><stop offset="0.083" stop-color="rgb(0,150,255)" stop-opacity="0.999"/><stop offset="0.167" stop-color="rgb(0,150,255)" stop-opacity="0.994"/><stop offset="0.250" stop-color="rgb(0,150,255)" stop-opacity="0.977"/><stop offset="0.333" stop-color="rgb(0,150,255)" stop-opacity="0.931"/><stop offset="0.417" stop-color="rgb(0,150,255)" stop-opacity="0.835"/><stop offset="0.500" stop-color="rgb(0,150,255)" stop-opacity="0.678"/><stop offset="0.583" stop-color="rgb(0,150,255)" stop-opacity="0.481"/><stop offset="0.667" stop-color="rgb(0,150,255)" stop-opacity="0.288"/><stop offset="0.750" stop-color="rgb(0,150,255)" stop-opacity="0.143"/><stop offset="0.833" stop-color="rgb(0,150,255)" stop-opacity="0.057"/><stop offset="0.917" stop-color="rgb(0,150,255)" stop-opacity="0.018"/><stop offset="1.000" stop-color="rgb(0,150,255)" stop-opacity="0.000"/></radialGradient></defs>
<ellipse cx="340.00" cy="380.90" rx="10.88" ry="11.18" fill="url(#eg18)"/>
<defs><radialGradient id="eg19"><stop offset="0.000" stop-color="rgb(0,225,255)" stop-opacity="1.000"/><stop offset="0.083" stop-color="rgb(0,225,255)" stop-opacity="0.999"/><stop offset="0.167" stop-color="rgb(0,225,255)" stop-opacity="0.995"/><stop offset="0.250" stop-color="rgb(0,225,255)" stop-opacity="0.980"/><stop offset="0.333" stop-color="rgb(0,225,255)" stop-opacity="0.939"/><stop offset="0.417" stop-color="rgb(0,225,255)" stop-opacity="0.847"/><stop offset="0.500" stop-color="rgb(0,225,255)" stop-opacity="0.694"/><stop offset="0.583" stop-color="rgb(0,225,255)" stop-opacity="0.496"/><stop offset="0.667" stop-color="rgb(0,225,255)" stop-opacity="0.299"/><stop offset="0.750" stop-color="rgb(0,225,255)" stop-opacity="0.148"/><stop offset="0.833" stop-color="rgb(0,225,255)" stop-opacity="0.059"/><stop offset="0.917" stop-color="rgb(0,225,255)" stop-opacity="0.019"/><stop offset="1.000" stop-color="rgb(0,225,255)" stop-opacity="0.000"/></radialGradient></defs>
<ellipse cx="339.60" cy="380.30" rx="7.98" ry="8.18" fill="url(#eg19)"/>
<ellipse cx="339.30" cy="379.90" rx="3.60" ry="3.60" fill="rgb(160,255,100)" filter="url(#bl0)"/>
<ellipse cx="339.00" cy="379.60" rx="2.80" ry="2.80" fill="rgb(255,225,0)" filter="url(#bl1)"/>
<ellipse cx="338.90" cy="379.30" rx="2.10" ry="2.00" fill="rgb(255,120,0)" filter="url(#bl2)"/>
<defs><filter id="bl8" filterUnits="userSpaceOnUse" x="0" y="0" width="977" height="520"><feGaussianBlur stdDeviation="0.5"/></filter></defs>
<ellipse cx="338.80" cy="379.10" rx="1.40" ry="1.30" fill="rgb(225,10,0)" filter="url(#bl8)"/>
<ellipse cx="338.70" cy="379.10" rx="0.80" ry="0.70" fill="rgb(140,0,0)" filter="url(#bl3)"/>
<defs><radialGradient id="eg20"><stop offset="0.000" stop-color="rgb(0,110,255)" stop-opacity="1.000"/><stop offset="0.083" stop-color="rgb(0,110,255)" stop-opacity="0.999"/><stop offset="0.167" stop-color="rgb(0,110,255)" stop-opacity="0.995"/><stop offset="0.250" stop-color="rgb(0,110,255)" stop-opacity="0.980"/><stop offset="0.333" stop-color="rgb(0,110,255)" stop-opacity="0.937"/><stop offset="0.417" stop-color="rgb(0,110,255)" stop-opacity="0.845"/><stop offset="0.500" stop-color="rgb(0,110,255)" stop-opacity="0.691"/><stop offset="0.583" stop-color="rgb(0,110,255)" stop-opacity="0.493"/><stop offset="0.667" stop-color="rgb(0,110,255)" stop-opacity="0.297"/><stop offset="0.750" stop-color="rgb(0,110,255)" stop-opacity="0.147"/><stop offset="0.833" stop-color="rgb(0,110,255)" stop-opacity="0.059"/><stop offset="0.917" stop-color="rgb(0,110,255)" stop-opacity="0.019"/><stop offset="1.000" stop-color="rgb(0,110,255)" stop-opacity="0.000"/></radialGradient></defs>
<ellipse cx="340.50" cy="420.50" rx="15.50" ry="15.50" fill="url(#eg20)"/>
<defs><radialGradient id="eg21"><stop offset="0.000" stop-color="rgb(0,150,255)" stop-opacity="1.000"/><stop offset="0.083" stop-color="rgb(0,150,255)" stop-opacity="0.999"/><stop offset="0.167" stop-color="rgb(0,150,255)" stop-opacity="0.994"/><stop offset="0.250" stop-color="rgb(0,150,255)" stop-opacity="0.977"/><stop offset="0.333" stop-color="rgb(0,150,255)" stop-opacity="0.931"/><stop offset="0.417" stop-color="rgb(0,150,255)" stop-opacity="0.835"/><stop offset="0.500" stop-color="rgb(0,150,255)" stop-opacity="0.678"/><stop offset="0.583" stop-color="rgb(0,150,255)" stop-opacity="0.481"/><stop offset="0.667" stop-color="rgb(0,150,255)" stop-opacity="0.288"/><stop offset="0.750" stop-color="rgb(0,150,255)" stop-opacity="0.143"/><stop offset="0.833" stop-color="rgb(0,150,255)" stop-opacity="0.057"/><stop offset="0.917" stop-color="rgb(0,150,255)" stop-opacity="0.018"/><stop offset="1.000" stop-color="rgb(0,150,255)" stop-opacity="0.000"/></radialGradient></defs>
<ellipse cx="340.00" cy="421.20" rx="10.88" ry="11.18" fill="url(#eg21)"/>
<defs><radialGradient id="eg22"><stop offset="0.000" stop-color="rgb(0,225,255)" stop-opacity="1.000"/><stop offset="0.083" stop-color="rgb(0,225,255)" stop-opacity="0.999"/><stop offset="0.167" stop-color="rgb(0,225,255)" stop-opacity="0.995"/><stop offset="0.250" stop-color="rgb(0,225,255)" stop-opacity="0.980"/><stop offset="0.333" stop-color="rgb(0,225,255)" stop-opacity="0.939"/><stop offset="0.417" stop-color="rgb(0,225,255)" stop-opacity="0.847"/><stop offset="0.500" stop-color="rgb(0,225,255)" stop-opacity="0.694"/><stop offset="0.583" stop-color="rgb(0,225,255)" stop-opacity="0.496"/><stop offset="0.667" stop-color="rgb(0,225,255)" stop-opacity="0.299"/><stop offset="0.750" stop-color="rgb(0,225,255)" stop-opacity="0.148"/><stop offset="0.833" stop-color="rgb(0,225,255)" stop-opacity="0.059"/><stop offset="0.917" stop-color="rgb(0,225,255)" stop-opacity="0.019"/><stop offset="1.000" stop-color="rgb(0,225,255)" stop-opacity="0.000"/></radialGradient></defs>
<ellipse cx="339.60" cy="421.80" rx="7.98" ry="8.18" fill="url(#eg22)"/>
<ellipse cx="339.30" cy="422.20" rx="3.60" ry="3.60" fill="rgb(160,255,100)" filter="url(#bl0)"/>
<ellipse cx="339.00" cy="422.50" rx="2.80" ry="2.80" fill="rgb(255,225,0)" filter="url(#bl1)"/>
<ellipse cx="338.90" cy="422.80" rx="2.10" ry="2.00" fill="rgb(255,120,0)" filter="url(#bl2)"/>
<ellipse cx="338.80" cy="423.00" rx="1.40" ry="1.30" fill="rgb(225,10,0)" filter="url(#bl8)"/>
<ellipse cx="338.70" cy="423.00" rx="0.80" ry="0.70" fill="rgb(140,0,0)" filter="url(#bl3)"/>
</g>
<path d="M320.6,348.4L426.4,401.3L320.6,454.2ZM320.6,379H335M320.6,423.7H335" fill="none" stroke="#000" stroke-width="0.8" stroke-opacity="0.85"/>
<path d="M335,375.6L387.9,401.3L335,426.5Z" fill="none" stroke="#000" stroke-width="1.1" stroke-opacity="0.85"/>
<text x="284.70" y="497.90" font-size="11.8" text-anchor="middle" fill="#1e1e1e" stroke="#1e1e1e" stroke-width="0.2" >−1.2</text>
<text x="324.90" y="497.90" font-size="11.8" text-anchor="middle" fill="#1e1e1e" stroke="#1e1e1e" stroke-width="0.2" >−0.6</text>
<text x="365.20" y="497.90" font-size="11.8" text-anchor="middle" fill="#1e1e1e" stroke="#1e1e1e" stroke-width="0.2" >0.0</text>
<text x="405.40" y="497.90" font-size="11.8" text-anchor="middle" fill="#1e1e1e" stroke="#1e1e1e" stroke-width="0.2" >0.6</text>
<text x="446.80" y="497.90" font-size="11.8" text-anchor="middle" fill="#1e1e1e" stroke="#1e1e1e" stroke-width="0.2" >1.2</text>
<text x="272.80" y="332.30" font-size="11.8" text-anchor="end" fill="#555" stroke="#555" stroke-width="0.2" >1.2</text>
<text x="272.80" y="368.30" font-size="11.8" text-anchor="end" fill="#1e1e1e" stroke="#1e1e1e" stroke-width="0.2" >0.6</text>
<text x="272.80" y="405.00" font-size="11.8" text-anchor="end" fill="#1e1e1e" stroke="#1e1e1e" stroke-width="0.2" >0.0</text>
<text x="272.80" y="441.50" font-size="11.8" text-anchor="end" fill="#1e1e1e" stroke="#1e1e1e" stroke-width="0.2" >−0.6</text>
<text x="272.80" y="477.50" font-size="11.8" text-anchor="end" fill="#1e1e1e" stroke="#1e1e1e" stroke-width="0.2" >−1.2</text>
<text x="364.80" y="508.20" font-size="12.4" text-anchor="middle" fill="#1e1e1e" stroke="#1e1e1e" stroke-width="0.2" textLength="30.20" lengthAdjust="spacingAndGlyphs" >x(μm)</text>
<text x="0" y="0" font-size="12.4" text-anchor="middle" fill="#1e1e1e" stroke="#1e1e1e" stroke-width="0.2" transform="translate(253.0,402.0) rotate(-90)" textLength="29" lengthAdjust="spacingAndGlyphs">y(μm)</text>
<text x="235.80" y="336.00" font-size="20" text-anchor="start" fill="#222" stroke="#222" stroke-width="0.2" textLength="20.70" lengthAdjust="spacingAndGlyphs" >(e)</text>
<defs><clipPath id="cf"><rect x="499.8" y="317.6" width="179.59999999999997" height="169.7"/></clipPath><linearGradient id="gf" x1="0" x2="0" y1="0" y2="1"><stop offset="0" stop-color="rgb(0,18,220)"/><stop offset="0.25" stop-color="rgb(0,10,205)"/><stop offset="0.42" stop-color="rgb(0,35,235)"/><stop offset="0.55" stop-color="rgb(0,75,255)"/><stop offset="0.85" stop-color="rgb(0,70,255)"/><stop offset="1" stop-color="rgb(0,40,240)"/></linearGradient><linearGradient id="gfc" x1="0" x2="0" y1="0" y2="1"><stop offset="0" stop-color="rgb(255,100,0)"/><stop offset="0.15" stop-color="rgb(245,35,0)"/><stop offset="0.5" stop-color="rgb(200,0,0)"/><stop offset="0.85" stop-color="rgb(220,10,0)"/><stop offset="1" stop-color="rgb(240,40,0)"/></linearGradient></defs>
<g clip-path="url(#cf)">
<rect x="499.80" y="317.60" width="179.60" height="169.70" fill="url(#gf)"/>
<defs><radialGradient id="eg23"><stop offset="0.000" stop-color="rgb(0,5,185)" stop-opacity="0.999"/><stop offset="0.083" stop-color="rgb(0,5,185)" stop-opacity="0.995"/><stop offset="0.167" stop-color="rgb(0,5,185)" stop-opacity="0.982"/><stop offset="0.250" stop-color="rgb(0,5,185)" stop-opacity="0.947"/><stop offset="0.333" stop-color="rgb(0,5,185)" stop-opacity="0.873"/><stop offset="0.417" stop-color="rgb(0,5,185)" stop-opacity="0.748"/><stop offset="0.500" stop-color="rgb(0,5,185)" stop-opacity="0.576"/><stop offset="0.583" stop-color="rgb(0,5,185)" stop-opacity="0.388"/><stop offset="0.667" stop-color="rgb(0,5,185)" stop-opacity="0.223"/><stop offset="0.750" stop-color="rgb(0,5,185)" stop-opacity="0.108"/><stop offset="0.833" stop-color="rgb(0,5,185)" stop-opacity="0.043"/><stop offset="0.917" stop-color="rgb(0,5,185)" stop-opacity="0.014"/><stop offset="1.000" stop-color="rgb(0,5,185)" stop-opacity="0.000"/></radialGradient></defs>
<ellipse cx="590.00" cy="358.00" rx="59.40" ry="43.40" fill="url(#eg23)"/>
<defs><radialGradient id="eg24"><stop offset="0.000" stop-color="rgb(0,0,165)" stop-opacity="0.996"/><stop offset="0.083" stop-color="rgb(0,0,165)" stop-opacity="0.985"/><stop offset="0.167" stop-color="rgb(0,0,165)" stop-opacity="0.959"/><stop offset="0.250" stop-color="rgb(0,0,165)" stop-opacity="0.903"/><stop offset="0.333" stop-color="rgb(0,0,165)" stop-opacity="0.804"/><stop offset="0.417" stop-color="rgb(0,0,165)" stop-opacity="0.661"/><stop offset="0.500" stop-color="rgb(0,0,165)" stop-opacity="0.489"/><stop offset="0.583" stop-color="rgb(0,0,165)" stop-opacity="0.320"/><stop offset="0.667" stop-color="rgb(0,0,165)" stop-opacity="0.181"/><stop offset="0.750" stop-color="rgb(0,0,165)" stop-opacity="0.088"/><stop offset="0.833" stop-color="rgb(0,0,165)" stop-opacity="0.036"/><stop offset="0.917" stop-color="rgb(0,0,165)" stop-opacity="0.013"/><stop offset="1.000" stop-color="rgb(0,0,165)" stop-opacity="0.000"/></radialGradient></defs>
<ellipse cx="590.00" cy="360.00" rx="31.00" ry="22.00" fill="url(#eg24)"/>
<defs><radialGradient id="eg25"><stop offset="0.000" stop-color="rgb(0,100,255)" stop-opacity="1.000"/><stop offset="0.083" stop-color="rgb(0,100,255)" stop-opacity="1.000"/><stop offset="0.167" stop-color="rgb(0,100,255)" stop-opacity="0.999"/><stop offset="0.250" stop-color="rgb(0,100,255)" stop-opacity="0.995"/><stop offset="0.333" stop-color="rgb(0,100,255)" stop-opacity="0.974"/><stop offset="0.417" stop-color="rgb(0,100,255)" stop-opacity="0.904"/><stop offset="0.500" stop-color="rgb(0,100,255)" stop-opacity="0.747"/><stop offset="0.583" stop-color="rgb(0,100,255)" stop-opacity="0.509"/><stop offset="0.667" stop-color="rgb(0,100,255)" stop-opacity="0.268"/><stop offset="0.750" stop-color="rgb(0,100,255)" stop-opacity="0.104"/><stop offset="0.833" stop-color="rgb(0,100,255)" stop-opacity="0.029"/><stop offset="0.917" stop-color="rgb(0,100,255)" stop-opacity="0.005"/><stop offset="1.000" stop-color="rgb(0,100,255)" stop-opacity="0.000"/></radialGradient></defs>
<ellipse cx="590.60" cy="386.00" rx="55.00" ry="22.00" fill="url(#eg25)"/>
<defs><radialGradient id="eg26"><stop offset="0.000" stop-color="rgb(0,150,255)" stop-opacity="1.000"/><stop offset="0.083" stop-color="rgb(0,150,255)" stop-opacity="1.000"/><stop offset="0.167" stop-color="rgb(0,150,255)" stop-opacity="1.000"/><stop offset="0.250" stop-color="rgb(0,150,255)" stop-opacity="1.000"/><stop offset="0.333" stop-color="rgb(0,150,255)" stop-opacity="0.998"/><stop offset="0.417" stop-color="rgb(0,150,255)" stop-opacity="0.987"/><stop offset="0.500" stop-color="rgb(0,150,255)" stop-opacity="0.938"/><stop offset="0.583" stop-color="rgb(0,150,255)" stop-opacity="0.800"/><stop offset="0.667" stop-color="rgb(0,150,255)" stop-opacity="0.558"/><stop offset="0.750" stop-color="rgb(0,150,255)" stop-opacity="0.291"/><stop offset="0.833" stop-color="rgb(0,150,255)" stop-opacity="0.106"/><stop offset="0.917" stop-color="rgb(0,150,255)" stop-opacity="0.026"/><stop offset="1.000" stop-color="rgb(0,150,255)" stop-opacity="0.000"/></radialGradient></defs>
<ellipse cx="530.00" cy="440.00" rx="74.80" ry="58.80" fill="url(#eg26)" transform="rotate(-15 530.00 440.00)"/>
<defs><radialGradient id="eg27"><stop offset="0.000" stop-color="rgb(0,225,255)" stop-opacity="1.000"/><stop offset="0.083" stop-color="rgb(0,225,255)" stop-opacity="1.000"/><stop offset="0.167" stop-color="rgb(0,225,255)" stop-opacity="1.000"/><stop offset="0.250" stop-color="rgb(0,225,255)" stop-opacity="1.000"/><stop offset="0.333" stop-color="rgb(0,225,255)" stop-opacity="0.997"/><stop offset="0.417" stop-color="rgb(0,225,255)" stop-opacity="0.982"/><stop offset="0.500" stop-color="rgb(0,225,255)" stop-opacity="0.921"/><stop offset="0.583" stop-color="rgb(0,225,255)" stop-opacity="0.767"/><stop offset="0.667" stop-color="rgb(0,225,255)" stop-opacity="0.519"/><stop offset="0.750" stop-color="rgb(0,225,255)" stop-opacity="0.263"/><stop offset="0.833" stop-color="rgb(0,225,255)" stop-opacity="0.094"/><stop offset="0.917" stop-color="rgb(0,225,255)" stop-opacity="0.023"/><stop offset="1.000" stop-color="rgb(0,225,255)" stop-opacity="0.000"/></radialGradient></defs>
<ellipse cx="531.00" cy="435.00" rx="57.60" ry="40.60" fill="url(#eg27)" transform="rotate(-15 531.00 435.00)"/>
<defs><radialGradient id="eg28"><stop offset="0.000" stop-color="rgb(150,255,110)" stop-opacity="0.900"/><stop offset="0.083" stop-color="rgb(150,255,110)" stop-opacity="0.899"/><stop offset="0.167" stop-color="rgb(150,255,110)" stop-opacity="0.897"/><stop offset="0.250" stop-color="rgb(150,255,110)" stop-opacity="0.885"/><stop offset="0.333" stop-color="rgb(150,255,110)" stop-opacity="0.850"/><stop offset="0.417" stop-color="rgb(150,255,110)" stop-opacity="0.767"/><stop offset="0.500" stop-color="rgb(150,255,110)" stop-opacity="0.622"/><stop offset="0.583" stop-color="rgb(150,255,110)" stop-opacity="0.433"/><stop offset="0.667" stop-color="rgb(150,255,110)" stop-opacity="0.249"/><stop offset="0.750" stop-color="rgb(150,255,110)" stop-opacity="0.115"/><stop offset="0.833" stop-color="rgb(150,255,110)" stop-opacity="0.041"/><stop offset="0.917" stop-color="rgb(150,255,110)" stop-opacity="0.012"/><stop offset="1.000" stop-color="rgb(150,255,110)" stop-opacity="0.000"/></radialGradient></defs>
<ellipse cx="530.00" cy="431.00" rx="41.00" ry="24.50" fill="url(#eg28)" transform="rotate(-12 530.00 431.00)"/>
<defs><radialGradient id="eg29"><stop offset="0.000" stop-color="rgb(200,255,60)" stop-opacity="0.999"/><stop offset="0.083" stop-color="rgb(200,255,60)" stop-opacity="0.996"/><stop offset="0.167" stop-color="rgb(200,255,60)" stop-opacity="0.984"/><stop offset="0.250" stop-color="rgb(200,255,60)" stop-opacity="0.950"/><stop offset="0.333" stop-color="rgb(200,255,60)" stop-opacity="0.876"/><stop offset="0.417" stop-color="rgb(200,255,60)" stop-opacity="0.746"/><stop offset="0.500" stop-color="rgb(200,255,60)" stop-opacity="0.568"/><stop offset="0.583" stop-color="rgb(200,255,60)" stop-opacity="0.374"/><stop offset="0.667" stop-color="rgb(200,255,60)" stop-opacity="0.208"/><stop offset="0.750" stop-color="rgb(200,255,60)" stop-opacity="0.096"/><stop offset="0.833" stop-color="rgb(200,255,60)" stop-opacity="0.036"/><stop offset="0.917" stop-color="rgb(200,255,60)" stop-opacity="0.011"/><stop offset="1.000" stop-color="rgb(200,255,60)" stop-opacity="0.000"/></radialGradient></defs>
<ellipse cx="547.00" cy="422.00" rx="18.50" ry="11.00" fill="url(#eg29)" transform="rotate(-10 547.00 422.00)"/>
<defs><radialGradient id="eg30"><stop offset="0.000" stop-color="rgb(0,150,255)" stop-opacity="1.000"/><stop offset="0.083" stop-color="rgb(0,150,255)" stop-opacity="1.000"/><stop offset="0.167" stop-color="rgb(0,150,255)" stop-opacity="1.000"/><stop offset="0.250" stop-color="rgb(0,150,255)" stop-opacity="1.000"/><stop offset="0.333" stop-color="rgb(0,150,255)" stop-opacity="0.998"/><stop offset="0.417" stop-color="rgb(0,150,255)" stop-opacity="0.987"/><stop offset="0.500" stop-color="rgb(0,150,255)" stop-opacity="0.938"/><stop offset="0.583" stop-color="rgb(0,150,255)" stop-opacity="0.800"/><stop offset="0.667" stop-color="rgb(0,150,255)" stop-opacity="0.558"/><stop offset="0.750" stop-color="rgb(0,150,255)" stop-opacity="0.291"/><stop offset="0.833" stop-color="rgb(0,150,255)" stop-opacity="0.106"/><stop offset="0.917" stop-color="rgb(0,150,255)" stop-opacity="0.026"/><stop offset="1.000" stop-color="rgb(0,150,255)" stop-opacity="0.000"/></radialGradient></defs>
<ellipse cx="651.20" cy="440.00" rx="74.80" ry="58.80" fill="url(#eg30)" transform="rotate(15 651.20 440.00)"/>
<defs><radialGradient id="eg31"><stop offset="0.000" stop-color="rgb(0,225,255)" stop-opacity="1.000"/><stop offset="0.083" stop-color="rgb(0,225,255)" stop-opacity="1.000"/><stop offset="0.167" stop-color="rgb(0,225,255)" stop-opacity="1.000"/><stop offset="0.250" stop-color="rgb(0,225,255)" stop-opacity="1.000"/><stop offset="0.333" stop-color="rgb(0,225,255)" stop-opacity="0.997"/><stop offset="0.417" stop-color="rgb(0,225,255)" stop-opacity="0.982"/><stop offset="0.500" stop-color="rgb(0,225,255)" stop-opacity="0.921"/><stop offset="0.583" stop-color="rgb(0,225,255)" stop-opacity="0.767"/><stop offset="0.667" stop-color="rgb(0,225,255)" stop-opacity="0.519"/><stop offset="0.750" stop-color="rgb(0,225,255)" stop-opacity="0.263"/><stop offset="0.833" stop-color="rgb(0,225,255)" stop-opacity="0.094"/><stop offset="0.917" stop-color="rgb(0,225,255)" stop-opacity="0.023"/><stop offset="1.000" stop-color="rgb(0,225,255)" stop-opacity="0.000"/></radialGradient></defs>
<ellipse cx="650.20" cy="435.00" rx="57.60" ry="40.60" fill="url(#eg31)" transform="rotate(15 650.20 435.00)"/>
<defs><radialGradient id="eg32"><stop offset="0.000" stop-color="rgb(150,255,110)" stop-opacity="0.900"/><stop offset="0.083" stop-color="rgb(150,255,110)" stop-opacity="0.899"/><stop offset="0.167" stop-color="rgb(150,255,110)" stop-opacity="0.897"/><stop offset="0.250" stop-color="rgb(150,255,110)" stop-opacity="0.885"/><stop offset="0.333" stop-color="rgb(150,255,110)" stop-opacity="0.850"/><stop offset="0.417" stop-color="rgb(150,255,110)" stop-opacity="0.767"/><stop offset="0.500" stop-color="rgb(150,255,110)" stop-opacity="0.622"/><stop offset="0.583" stop-color="rgb(150,255,110)" stop-opacity="0.433"/><stop offset="0.667" stop-color="rgb(150,255,110)" stop-opacity="0.249"/><stop offset="0.750" stop-color="rgb(150,255,110)" stop-opacity="0.115"/><stop offset="0.833" stop-color="rgb(150,255,110)" stop-opacity="0.041"/><stop offset="0.917" stop-color="rgb(150,255,110)" stop-opacity="0.012"/><stop offset="1.000" stop-color="rgb(150,255,110)" stop-opacity="0.000"/></radialGradient></defs>
<ellipse cx="651.20" cy="431.00" rx="41.00" ry="24.50" fill="url(#eg32)" transform="rotate(12 651.20 431.00)"/>
<defs><radialGradient id="eg33"><stop offset="0.000" stop-color="rgb(200,255,60)" stop-opacity="0.999"/><stop offset="0.083" stop-color="rgb(200,255,60)" stop-opacity="0.996"/><stop offset="0.167" stop-color="rgb(200,255,60)" stop-opacity="0.984"/><stop offset="0.250" stop-color="rgb(200,255,60)" stop-opacity="0.950"/><stop offset="0.333" stop-color="rgb(200,255,60)" stop-opacity="0.876"/><stop offset="0.417" stop-color="rgb(200,255,60)" stop-opacity="0.746"/><stop offset="0.500" stop-color="rgb(200,255,60)" stop-opacity="0.568"/><stop offset="0.583" stop-color="rgb(200,255,60)" stop-opacity="0.374"/><stop offset="0.667" stop-color="rgb(200,255,60)" stop-opacity="0.208"/><stop offset="0.750" stop-color="rgb(200,255,60)" stop-opacity="0.096"/><stop offset="0.833" stop-color="rgb(200,255,60)" stop-opacity="0.036"/><stop offset="0.917" stop-color="rgb(200,255,60)" stop-opacity="0.011"/><stop offset="1.000" stop-color="rgb(200,255,60)" stop-opacity="0.000"/></radialGradient></defs>
<ellipse cx="634.20" cy="422.00" rx="18.50" ry="11.00" fill="url(#eg33)" transform="rotate(10 634.20 422.00)"/>
<defs><radialGradient id="eg34"><stop offset="0.000" stop-color="rgb(0,150,255)" stop-opacity="1.000"/><stop offset="0.083" stop-color="rgb(0,150,255)" stop-opacity="0.999"/><stop offset="0.167" stop-color="rgb(0,150,255)" stop-opacity="0.995"/><stop offset="0.250" stop-color="rgb(0,150,255)" stop-opacity="0.979"/><stop offset="0.333" stop-color="rgb(0,150,255)" stop-opacity="0.929"/><stop offset="0.417" stop-color="rgb(0,150,255)" stop-opacity="0.815"/><stop offset="0.500" stop-color="rgb(0,150,255)" stop-opacity="0.628"/><stop offset="0.583" stop-color="rgb(0,150,255)" stop-opacity="0.403"/><stop offset="0.667" stop-color="rgb(0,150,255)" stop-opacity="0.207"/><stop offset="0.750" stop-color="rgb(0,150,255)" stop-opacity="0.083"/><stop offset="0.833" stop-color="rgb(0,150,255)" stop-opacity="0.025"/><stop offset="0.917" stop-color="rgb(0,150,255)" stop-opacity="0.006"/><stop offset="1.000" stop-color="rgb(0,150,255)" stop-opacity="0.000"/></radialGradient></defs>
<ellipse cx="590.60" cy="423.00" rx="38.40" ry="16.40" fill="url(#eg34)"/>
<defs><filter id="bl9" filterUnits="userSpaceOnUse" x="0" y="0" width="977" height="520"><feGaussianBlur stdDeviation="6"/></filter></defs>
<polygon points="579.00,434.00 602.00,434.00 628.00,497.00 553.00,497.00" fill="rgb(0,62,250)" filter="url(#bl9)" />
<polygon points="583.00,440.00 598.00,440.00 612.00,497.00 569.00,497.00" fill="rgb(0,50,245)" filter="url(#bl5)" />
<defs><radialGradient id="eg35"><stop offset="0.000" stop-color="rgb(255,225,0)" stop-opacity="1.000"/><stop offset="0.083" stop-color="rgb(255,225,0)" stop-opacity="0.999"/><stop offset="0.167" stop-color="rgb(255,225,0)" stop-opacity="0.995"/><stop offset="0.250" stop-color="rgb(255,225,0)" stop-opacity="0.980"/><stop offset="0.333" stop-color="rgb(255,225,0)" stop-opacity="0.937"/><stop offset="0.417" stop-color="rgb(255,225,0)" stop-opacity="0.841"/><stop offset="0.500" stop-color="rgb(255,225,0)" stop-opacity="0.681"/><stop offset="0.583" stop-color="rgb(255,225,0)" stop-opacity="0.476"/><stop offset="0.667" stop-color="rgb(255,225,0)" stop-opacity="0.278"/><stop offset="0.750" stop-color="rgb(255,225,0)" stop-opacity="0.132"/><stop offset="0.833" stop-color="rgb(255,225,0)" stop-opacity="0.050"/><stop offset="0.917" stop-color="rgb(255,225,0)" stop-opacity="0.015"/><stop offset="1.000" stop-color="rgb(255,225,0)" stop-opacity="0.000"/></radialGradient></defs>
<ellipse cx="555.50" cy="417.60" rx="10.64" ry="7.14" fill="url(#eg35)"/>
<ellipse cx="556.00" cy="417.70" rx="5.00" ry="2.50" fill="rgb(255,120,0)" filter="url(#bl0)"/>
<ellipse cx="556.50" cy="417.80" rx="3.00" ry="1.70" fill="rgb(225,10,0)" filter="url(#bl2)"/>
<defs><radialGradient id="eg36"><stop offset="0.000" stop-color="rgb(255,225,0)" stop-opacity="1.000"/><stop offset="0.083" stop-color="rgb(255,225,0)" stop-opacity="0.999"/><stop offset="0.167" stop-color="rgb(255,225,0)" stop-opacity="0.995"/><stop offset="0.250" stop-color="rgb(255,225,0)" stop-opacity="0.980"/><stop offset="0.333" stop-color="rgb(255,225,0)" stop-opacity="0.937"/><stop offset="0.417" stop-color="rgb(255,225,0)" stop-opacity="0.841"/><stop offset="0.500" stop-color="rgb(255,225,0)" stop-opacity="0.681"/><stop offset="0.583" stop-color="rgb(255,225,0)" stop-opacity="0.476"/><stop offset="0.667" stop-color="rgb(255,225,0)" stop-opacity="0.278"/><stop offset="0.750" stop-color="rgb(255,225,0)" stop-opacity="0.132"/><stop offset="0.833" stop-color="rgb(255,225,0)" stop-opacity="0.050"/><stop offset="0.917" stop-color="rgb(255,225,0)" stop-opacity="0.015"/><stop offset="1.000" stop-color="rgb(255,225,0)" stop-opacity="0.000"/></radialGradient></defs>
<ellipse cx="625.70" cy="417.60" rx="10.64" ry="7.14" fill="url(#eg36)"/>
<ellipse cx="625.20" cy="417.70" rx="5.00" ry="2.50" fill="rgb(255,120,0)" filter="url(#bl0)"/>
<ellipse cx="624.70" cy="417.80" rx="3.00" ry="1.70" fill="rgb(225,10,0)" filter="url(#bl2)"/>
<rect x="562.10" y="391.50" width="16.30" height="27.80" fill="rgb(30,185,245)"/>
<rect x="602.90" y="391.50" width="18.00" height="27.80" fill="rgb(30,185,245)"/>
<defs><filter id="bl10" filterUnits="userSpaceOnUse" x="0" y="0" width="977" height="520"><feGaussianBlur stdDeviation="2.5"/></filter></defs>
<rect x="565.00" y="394.00" width="10.50" height="22.00" fill="rgb(100,215,240)" filter="url(#bl10)"/>
<rect x="606.00" y="394.00" width="12.00" height="22.00" fill="rgb(100,215,240)" filter="url(#bl10)"/>
<polygon points="576.50,384.50 603.00,384.50 601.50,391.50 578.50,391.50" fill="rgb(0,215,255)" filter="url(#bl0)" />
<ellipse cx="579.00" cy="388.00" rx="2.20" ry="2.80" fill="rgb(150,255,100)" filter="url(#bl0)"/>
<ellipse cx="601.00" cy="388.00" rx="2.20" ry="2.80" fill="rgb(150,255,100)" filter="url(#bl0)"/>
<rect x="578.40" y="391.50" width="24.50" height="27.80" fill="url(#gfc)"/>
<rect x="583.00" y="398.00" width="15.00" height="15.00" fill="rgb(165,0,0)" filter="url(#bl4)"/>
</g>
<path d="M562.1,391.5H620.9V419.3H562.1ZM578.4,391.5V419.3M602.9,391.5V419.3" fill="none" stroke="#000" stroke-width="0.9" stroke-opacity="0.85"/>
<text x="514.40" y="498.70" font-size="11.8" text-anchor="middle" fill="#1e1e1e" stroke="#1e1e1e" stroke-width="0.2" >−1.2</text>
<text x="554.60" y="498.70" font-size="11.8" text-anchor="middle" fill="#1e1e1e" stroke="#1e1e1e" stroke-width="0.2" >−0.6</text>
<text x="592.70" y="498.70" font-size="11.8" text-anchor="middle" fill="#1e1e1e" stroke="#1e1e1e" stroke-width="0.2" >0.0</text>
<text x="632.90" y="498.70" font-size="11.8" text-anchor="middle" fill="#1e1e1e" stroke="#1e1e1e" stroke-width="0.2" >0.6</text>
<text x="673.30" y="498.70" font-size="11.8" text-anchor="middle" fill="#1e1e1e" stroke="#1e1e1e" stroke-width="0.2" >1.2</text>
<text x="496.60" y="335.50" font-size="11.8" text-anchor="end" fill="#555" stroke="#555" stroke-width="0.2" >1.4</text>
<text x="496.60" y="372.50" font-size="11.8" text-anchor="end" fill="#1e1e1e" stroke="#1e1e1e" stroke-width="0.2" >0.8</text>
<text x="496.60" y="409.80" font-size="11.8" text-anchor="end" fill="#1e1e1e" stroke="#1e1e1e" stroke-width="0.2" >0.2</text>
<text x="496.60" y="447.00" font-size="11.8" text-anchor="end" fill="#1e1e1e" stroke="#1e1e1e" stroke-width="0.2" >−0.4</text>
<text x="496.60" y="485.90" font-size="11.8" text-anchor="end" fill="#1e1e1e" stroke="#1e1e1e" stroke-width="0.2" >−1.0</text>
<text x="590.60" y="508.20" font-size="12.4" text-anchor="middle" fill="#1e1e1e" stroke="#1e1e1e" stroke-width="0.2" textLength="30.20" lengthAdjust="spacingAndGlyphs" >y(μm)</text>
<text x="0" y="0" font-size="12.4" text-anchor="middle" fill="#1e1e1e" stroke="#1e1e1e" stroke-width="0.2" transform="translate(476.5,403.6) rotate(-90)" textLength="29" lengthAdjust="spacingAndGlyphs">z(μm)</text>
<text x="462.50" y="339.20" font-size="20" text-anchor="start" fill="#222" stroke="#222" stroke-width="0.2" textLength="17.90" lengthAdjust="spacingAndGlyphs" >(f)</text>
<defs><clipPath id="cg"><rect x="723.9" y="317.6" width="178.10000000000002" height="168.39999999999998"/></clipPath><radialGradient id="gg" cx="813" cy="404" r="125" gradientUnits="userSpaceOnUse"><stop offset="0" stop-color="rgb(0,45,248)"/><stop offset="0.35" stop-color="rgb(0,20,225)"/><stop offset="0.65" stop-color="rgb(0,6,202)"/><stop offset="1" stop-color="rgb(0,0,186)"/></radialGradient></defs>
<g clip-path="url(#cg)">
<rect x="723.90" y="317.60" width="178.10" height="168.40" fill="url(#gg)"/>
<defs><radialGradient id="eg37"><stop offset="0.000" stop-color="rgb(0,5,195)" stop-opacity="0.993"/><stop offset="0.083" stop-color="rgb(0,5,195)" stop-opacity="0.979"/><stop offset="0.167" stop-color="rgb(0,5,195)" stop-opacity="0.946"/><stop offset="0.250" stop-color="rgb(0,5,195)" stop-opacity="0.882"/><stop offset="0.333" stop-color="rgb(0,5,195)" stop-opacity="0.777"/><stop offset="0.417" stop-color="rgb(0,5,195)" stop-opacity="0.634"/><stop offset="0.500" stop-color="rgb(0,5,195)" stop-opacity="0.469"/><stop offset="0.583" stop-color="rgb(0,5,195)" stop-opacity="0.309"/><stop offset="0.667" stop-color="rgb(0,5,195)" stop-opacity="0.179"/><stop offset="0.750" stop-color="rgb(0,5,195)" stop-opacity="0.090"/><stop offset="0.833" stop-color="rgb(0,5,195)" stop-opacity="0.039"/><stop offset="0.917" stop-color="rgb(0,5,195)" stop-opacity="0.015"/><stop offset="1.000" stop-color="rgb(0,5,195)" stop-opacity="0.000"/></radialGradient></defs>
<ellipse cx="813.00" cy="338.00" rx="45.40" ry="45.40" fill="url(#eg37)"/>
<defs><radialGradient id="eg38"><stop offset="0.000" stop-color="rgb(0,12,210)" stop-opacity="0.986"/><stop offset="0.083" stop-color="rgb(0,12,210)" stop-opacity="0.964"/><stop offset="0.167" stop-color="rgb(0,12,210)" stop-opacity="0.919"/><stop offset="0.250" stop-color="rgb(0,12,210)" stop-opacity="0.841"/><stop offset="0.333" stop-color="rgb(0,12,210)" stop-opacity="0.726"/><stop offset="0.417" stop-color="rgb(0,12,210)" stop-opacity="0.579"/><stop offset="0.500" stop-color="rgb(0,12,210)" stop-opacity="0.421"/><stop offset="0.583" stop-color="rgb(0,12,210)" stop-opacity="0.274"/><stop offset="0.667" stop-color="rgb(0,12,210)" stop-opacity="0.159"/><stop offset="0.750" stop-color="rgb(0,12,210)" stop-opacity="0.081"/><stop offset="0.833" stop-color="rgb(0,12,210)" stop-opacity="0.036"/><stop offset="0.917" stop-color="rgb(0,12,210)" stop-opacity="0.014"/><stop offset="1.000" stop-color="rgb(0,12,210)" stop-opacity="0.000"/></radialGradient></defs>
<ellipse cx="813.00" cy="472.00" rx="48.00" ry="48.00" fill="url(#eg38)"/>
<defs><radialGradient id="eg39"><stop offset="0.000" stop-color="rgb(0,80,255)" stop-opacity="1.000"/><stop offset="0.083" stop-color="rgb(0,80,255)" stop-opacity="1.000"/><stop offset="0.167" stop-color="rgb(0,80,255)" stop-opacity="0.999"/><stop offset="0.250" stop-color="rgb(0,80,255)" stop-opacity="0.996"/><stop offset="0.333" stop-color="rgb(0,80,255)" stop-opacity="0.982"/><stop offset="0.417" stop-color="rgb(0,80,255)" stop-opacity="0.933"/><stop offset="0.500" stop-color="rgb(0,80,255)" stop-opacity="0.819"/><stop offset="0.583" stop-color="rgb(0,80,255)" stop-opacity="0.627"/><stop offset="0.667" stop-color="rgb(0,80,255)" stop-opacity="0.397"/><stop offset="0.750" stop-color="rgb(0,80,255)" stop-opacity="0.198"/><stop offset="0.833" stop-color="rgb(0,80,255)" stop-opacity="0.075"/><stop offset="0.917" stop-color="rgb(0,80,255)" stop-opacity="0.022"/><stop offset="1.000" stop-color="rgb(0,80,255)" stop-opacity="0.000"/></radialGradient></defs>
<ellipse cx="776.80" cy="404.60" rx="59.40" ry="67.40" fill="url(#eg39)"/>
<defs><radialGradient id="eg40"><stop offset="0.000" stop-color="rgb(0,140,255)" stop-opacity="1.000"/><stop offset="0.083" stop-color="rgb(0,140,255)" stop-opacity="1.000"/><stop offset="0.167" stop-color="rgb(0,140,255)" stop-opacity="1.000"/><stop offset="0.250" stop-color="rgb(0,140,255)" stop-opacity="0.999"/><stop offset="0.333" stop-color="rgb(0,140,255)" stop-opacity="0.995"/><stop offset="0.417" stop-color="rgb(0,140,255)" stop-opacity="0.972"/><stop offset="0.500" stop-color="rgb(0,140,255)" stop-opacity="0.897"/><stop offset="0.583" stop-color="rgb(0,140,255)" stop-opacity="0.731"/><stop offset="0.667" stop-color="rgb(0,140,255)" stop-opacity="0.488"/><stop offset="0.750" stop-color="rgb(0,140,255)" stop-opacity="0.249"/><stop offset="0.833" stop-color="rgb(0,140,255)" stop-opacity="0.093"/><stop offset="0.917" stop-color="rgb(0,140,255)" stop-opacity="0.024"/><stop offset="1.000" stop-color="rgb(0,140,255)" stop-opacity="0.000"/></radialGradient></defs>
<ellipse cx="778.80" cy="404.60" rx="42.60" ry="50.60" fill="url(#eg40)"/>
<defs><radialGradient id="eg41"><stop offset="0.000" stop-color="rgb(0,225,255)" stop-opacity="1.000"/><stop offset="0.083" stop-color="rgb(0,225,255)" stop-opacity="1.000"/><stop offset="0.167" stop-color="rgb(0,225,255)" stop-opacity="1.000"/><stop offset="0.250" stop-color="rgb(0,225,255)" stop-opacity="0.999"/><stop offset="0.333" stop-color="rgb(0,225,255)" stop-opacity="0.995"/><stop offset="0.417" stop-color="rgb(0,225,255)" stop-opacity="0.971"/><stop offset="0.500" stop-color="rgb(0,225,255)" stop-opacity="0.895"/><stop offset="0.583" stop-color="rgb(0,225,255)" stop-opacity="0.728"/><stop offset="0.667" stop-color="rgb(0,225,255)" stop-opacity="0.483"/><stop offset="0.750" stop-color="rgb(0,225,255)" stop-opacity="0.246"/><stop offset="0.833" stop-color="rgb(0,225,255)" stop-opacity="0.091"/><stop offset="0.917" stop-color="rgb(0,225,255)" stop-opacity="0.024"/><stop offset="1.000" stop-color="rgb(0,225,255)" stop-opacity="0.000"/></radialGradient></defs>
<ellipse cx="780.30" cy="404.60" rx="31.20" ry="38.70" fill="url(#eg41)"/>
<defs><radialGradient id="eg42"><stop offset="0.000" stop-color="rgb(150,255,110)" stop-opacity="1.000"/><stop offset="0.083" stop-color="rgb(150,255,110)" stop-opacity="1.000"/><stop offset="0.167" stop-color="rgb(150,255,110)" stop-opacity="1.000"/><stop offset="0.250" stop-color="rgb(150,255,110)" stop-opacity="1.000"/><stop offset="0.333" stop-color="rgb(150,255,110)" stop-opacity="0.997"/><stop offset="0.417" stop-color="rgb(150,255,110)" stop-opacity="0.980"/><stop offset="0.500" stop-color="rgb(150,255,110)" stop-opacity="0.917"/><stop offset="0.583" stop-color="rgb(150,255,110)" stop-opacity="0.762"/><stop offset="0.667" stop-color="rgb(150,255,110)" stop-opacity="0.516"/><stop offset="0.750" stop-color="rgb(150,255,110)" stop-opacity="0.264"/><stop offset="0.833" stop-color="rgb(150,255,110)" stop-opacity="0.096"/><stop offset="0.917" stop-color="rgb(150,255,110)" stop-opacity="0.024"/><stop offset="1.000" stop-color="rgb(150,255,110)" stop-opacity="0.000"/></radialGradient></defs>
<ellipse cx="781.30" cy="404.60" rx="22.32" ry="29.32" fill="url(#eg42)"/>
<defs><radialGradient id="eg43"><stop offset="0.000" stop-color="rgb(255,225,0)" stop-opacity="1.000"/><stop offset="0.083" stop-color="rgb(255,225,0)" stop-opacity="1.000"/><stop offset="0.167" stop-color="rgb(255,225,0)" stop-opacity="1.000"/><stop offset="0.250" stop-color="rgb(255,225,0)" stop-opacity="1.000"/><stop offset="0.333" stop-color="rgb(255,225,0)" stop-opacity="1.000"/><stop offset="0.417" stop-color="rgb(255,225,0)" stop-opacity="0.997"/><stop offset="0.500" stop-color="rgb(255,225,0)" stop-opacity="0.976"/><stop offset="0.583" stop-color="rgb(255,225,0)" stop-opacity="0.887"/><stop offset="0.667" stop-color="rgb(255,225,0)" stop-opacity="0.668"/><stop offset="0.750" stop-color="rgb(255,225,0)" stop-opacity="0.367"/><stop offset="0.833" stop-color="rgb(255,225,0)" stop-opacity="0.132"/><stop offset="0.917" stop-color="rgb(255,225,0)" stop-opacity="0.029"/><stop offset="1.000" stop-color="rgb(255,225,0)" stop-opacity="0.000"/></radialGradient></defs>
<ellipse cx="782.00" cy="404.60" rx="17.22" ry="23.72" fill="url(#eg43)"/>
<defs><radialGradient id="eg44"><stop offset="0.000" stop-color="rgb(255,120,0)" stop-opacity="1.000"/><stop offset="0.083" stop-color="rgb(255,120,0)" stop-opacity="1.000"/><stop offset="0.167" stop-color="rgb(255,120,0)" stop-opacity="1.000"/><stop offset="0.250" stop-color="rgb(255,120,0)" stop-opacity="1.000"/><stop offset="0.333" stop-color="rgb(255,120,0)" stop-opacity="1.000"/><stop offset="0.417" stop-color="rgb(255,120,0)" stop-opacity="0.998"/><stop offset="0.500" stop-color="rgb(255,120,0)" stop-opacity="0.982"/><stop offset="0.583" stop-color="rgb(255,120,0)" stop-opacity="0.902"/><stop offset="0.667" stop-color="rgb(255,120,0)" stop-opacity="0.691"/><stop offset="0.750" stop-color="rgb(255,120,0)" stop-opacity="0.384"/><stop offset="0.833" stop-color="rgb(255,120,0)" stop-opacity="0.138"/><stop offset="0.917" stop-color="rgb(255,120,0)" stop-opacity="0.030"/><stop offset="1.000" stop-color="rgb(255,120,0)" stop-opacity="0.000"/></radialGradient></defs>
<ellipse cx="782.60" cy="404.60" rx="14.18" ry="20.18" fill="url(#eg44)"/>
<defs><radialGradient id="eg45"><stop offset="0.000" stop-color="rgb(225,10,0)" stop-opacity="1.000"/><stop offset="0.083" stop-color="rgb(225,10,0)" stop-opacity="1.000"/><stop offset="0.167" stop-color="rgb(225,10,0)" stop-opacity="1.000"/><stop offset="0.250" stop-color="rgb(225,10,0)" stop-opacity="1.000"/><stop offset="0.333" stop-color="rgb(225,10,0)" stop-opacity="1.000"/><stop offset="0.417" stop-color="rgb(225,10,0)" stop-opacity="0.999"/><stop offset="0.500" stop-color="rgb(225,10,0)" stop-opacity="0.986"/><stop offset="0.583" stop-color="rgb(225,10,0)" stop-opacity="0.915"/><stop offset="0.667" stop-color="rgb(225,10,0)" stop-opacity="0.712"/><stop offset="0.750" stop-color="rgb(225,10,0)" stop-opacity="0.400"/><stop offset="0.833" stop-color="rgb(225,10,0)" stop-opacity="0.143"/><stop offset="0.917" stop-color="rgb(225,10,0)" stop-opacity="0.030"/><stop offset="1.000" stop-color="rgb(225,10,0)" stop-opacity="0.000"/></radialGradient></defs>
<ellipse cx="783.20" cy="404.60" rx="11.90" ry="17.40" fill="url(#eg45)"/>
<defs><radialGradient id="eg46"><stop offset="0.000" stop-color="rgb(150,0,0)" stop-opacity="1.000"/><stop offset="0.083" stop-color="rgb(150,0,0)" stop-opacity="1.000"/><stop offset="0.167" stop-color="rgb(150,0,0)" stop-opacity="0.998"/><stop offset="0.250" stop-color="rgb(150,0,0)" stop-opacity="0.988"/><stop offset="0.333" stop-color="rgb(150,0,0)" stop-opacity="0.956"/><stop offset="0.417" stop-color="rgb(150,0,0)" stop-opacity="0.874"/><stop offset="0.500" stop-color="rgb(150,0,0)" stop-opacity="0.720"/><stop offset="0.583" stop-color="rgb(150,0,0)" stop-opacity="0.508"/><stop offset="0.667" stop-color="rgb(150,0,0)" stop-opacity="0.294"/><stop offset="0.750" stop-color="rgb(150,0,0)" stop-opacity="0.135"/><stop offset="0.833" stop-color="rgb(150,0,0)" stop-opacity="0.048"/><stop offset="0.917" stop-color="rgb(150,0,0)" stop-opacity="0.013"/><stop offset="1.000" stop-color="rgb(150,0,0)" stop-opacity="0.000"/></radialGradient></defs>
<ellipse cx="784.00" cy="404.60" rx="7.96" ry="13.66" fill="url(#eg46)"/>
<defs><filter id="bl11" filterUnits="userSpaceOnUse" x="0" y="0" width="977" height="520"><feGaussianBlur stdDeviation="1.5"/></filter></defs>
<rect x="795.80" y="392.00" width="6.00" height="25.00" fill="rgb(20,190,250)" filter="url(#bl11)"/>
<defs><radialGradient id="eg47"><stop offset="0.000" stop-color="rgb(0,80,255)" stop-opacity="1.000"/><stop offset="0.083" stop-color="rgb(0,80,255)" stop-opacity="1.000"/><stop offset="0.167" stop-color="rgb(0,80,255)" stop-opacity="0.999"/><stop offset="0.250" stop-color="rgb(0,80,255)" stop-opacity="0.996"/><stop offset="0.333" stop-color="rgb(0,80,255)" stop-opacity="0.982"/><stop offset="0.417" stop-color="rgb(0,80,255)" stop-opacity="0.933"/><stop offset="0.500" stop-color="rgb(0,80,255)" stop-opacity="0.819"/><stop offset="0.583" stop-color="rgb(0,80,255)" stop-opacity="0.627"/><stop offset="0.667" stop-color="rgb(0,80,255)" stop-opacity="0.397"/><stop offset="0.750" stop-color="rgb(0,80,255)" stop-opacity="0.198"/><stop offset="0.833" stop-color="rgb(0,80,255)" stop-opacity="0.075"/><stop offset="0.917" stop-color="rgb(0,80,255)" stop-opacity="0.022"/><stop offset="1.000" stop-color="rgb(0,80,255)" stop-opacity="0.000"/></radialGradient></defs>
<ellipse cx="850.20" cy="404.60" rx="59.40" ry="67.40" fill="url(#eg47)"/>
<defs><radialGradient id="eg48"><stop offset="0.000" stop-color="rgb(0,140,255)" stop-opacity="1.000"/><stop offset="0.083" stop-color="rgb(0,140,255)" stop-opacity="1.000"/><stop offset="0.167" stop-color="rgb(0,140,255)" stop-opacity="1.000"/><stop offset="0.250" stop-color="rgb(0,140,255)" stop-opacity="0.999"/><stop offset="0.333" stop-color="rgb(0,140,255)" stop-opacity="0.995"/><stop offset="0.417" stop-color="rgb(0,140,255)" stop-opacity="0.972"/><stop offset="0.500" stop-color="rgb(0,140,255)" stop-opacity="0.897"/><stop offset="0.583" stop-color="rgb(0,140,255)" stop-opacity="0.731"/><stop offset="0.667" stop-color="rgb(0,140,255)" stop-opacity="0.488"/><stop offset="0.750" stop-color="rgb(0,140,255)" stop-opacity="0.249"/><stop offset="0.833" stop-color="rgb(0,140,255)" stop-opacity="0.093"/><stop offset="0.917" stop-color="rgb(0,140,255)" stop-opacity="0.024"/><stop offset="1.000" stop-color="rgb(0,140,255)" stop-opacity="0.000"/></radialGradient></defs>
<ellipse cx="848.20" cy="404.60" rx="42.60" ry="50.60" fill="url(#eg48)"/>
<defs><radialGradient id="eg49"><stop offset="0.000" stop-color="rgb(0,225,255)" stop-opacity="1.000"/><stop offset="0.083" stop-color="rgb(0,225,255)" stop-opacity="1.000"/><stop offset="0.167" stop-color="rgb(0,225,255)" stop-opacity="1.000"/><stop offset="0.250" stop-color="rgb(0,225,255)" stop-opacity="0.999"/><stop offset="0.333" stop-color="rgb(0,225,255)" stop-opacity="0.995"/><stop offset="0.417" stop-color="rgb(0,225,255)" stop-opacity="0.971"/><stop offset="0.500" stop-color="rgb(0,225,255)" stop-opacity="0.895"/><stop offset="0.583" stop-color="rgb(0,225,255)" stop-opacity="0.728"/><stop offset="0.667" stop-color="rgb(0,225,255)" stop-opacity="0.483"/><stop offset="0.750" stop-color="rgb(0,225,255)" stop-opacity="0.246"/><stop offset="0.833" stop-color="rgb(0,225,255)" stop-opacity="0.091"/><stop offset="0.917" stop-color="rgb(0,225,255)" stop-opacity="0.024"/><stop offset="1.000" stop-color="rgb(0,225,255)" stop-opacity="0.000"/></radialGradient></defs>
<ellipse cx="846.70" cy="404.60" rx="31.20" ry="38.70" fill="url(#eg49)"/>
<defs><radialGradient id="eg50"><stop offset="0.000" stop-color="rgb(150,255,110)" stop-opacity="1.000"/><stop offset="0.083" stop-color="rgb(150,255,110)" stop-opacity="1.000"/><stop offset="0.167" stop-color="rgb(150,255,110)" stop-opacity="1.000"/><stop offset="0.250" stop-color="rgb(150,255,110)" stop-opacity="1.000"/><stop offset="0.333" stop-color="rgb(150,255,110)" stop-opacity="0.997"/><stop offset="0.417" stop-color="rgb(150,255,110)" stop-opacity="0.980"/><stop offset="0.500" stop-color="rgb(150,255,110)" stop-opacity="0.917"/><stop offset="0.583" stop-color="rgb(150,255,110)" stop-opacity="0.762"/><stop offset="0.667" stop-color="rgb(150,255,110)" stop-opacity="0.516"/><stop offset="0.750" stop-color="rgb(150,255,110)" stop-opacity="0.264"/><stop offset="0.833" stop-color="rgb(150,255,110)" stop-opacity="0.096"/><stop offset="0.917" stop-color="rgb(150,255,110)" stop-opacity="0.024"/><stop offset="1.000" stop-color="rgb(150,255,110)" stop-opacity="0.000"/></radialGradient></defs>
<ellipse cx="845.70" cy="404.60" rx="22.32" ry="29.32" fill="url(#eg50)"/>
<defs><radialGradient id="eg51"><stop offset="0.000" stop-color="rgb(255,225,0)" stop-opacity="1.000"/><stop offset="0.083" stop-color="rgb(255,225,0)" stop-opacity="1.000"/><stop offset="0.167" stop-color="rgb(255,225,0)" stop-opacity="1.000"/><stop offset="0.250" stop-color="rgb(255,225,0)" stop-opacity="1.000"/><stop offset="0.333" stop-color="rgb(255,225,0)" stop-opacity="1.000"/><stop offset="0.417" stop-color="rgb(255,225,0)" stop-opacity="0.997"/><stop offset="0.500" stop-color="rgb(255,225,0)" stop-opacity="0.976"/><stop offset="0.583" stop-color="rgb(255,225,0)" stop-opacity="0.887"/><stop offset="0.667" stop-color="rgb(255,225,0)" stop-opacity="0.668"/><stop offset="0.750" stop-color="rgb(255,225,0)" stop-opacity="0.367"/><stop offset="0.833" stop-color="rgb(255,225,0)" stop-opacity="0.132"/><stop offset="0.917" stop-color="rgb(255,225,0)" stop-opacity="0.029"/><stop offset="1.000" stop-color="rgb(255,225,0)" stop-opacity="0.000"/></radialGradient></defs>
<ellipse cx="845.00" cy="404.60" rx="17.22" ry="23.72" fill="url(#eg51)"/>
<defs><radialGradient id="eg52"><stop offset="0.000" stop-color="rgb(255,120,0)" stop-opacity="1.000"/><stop offset="0.083" stop-color="rgb(255,120,0)" stop-opacity="1.000"/><stop offset="0.167" stop-color="rgb(255,120,0)" stop-opacity="1.000"/><stop offset="0.250" stop-color="rgb(255,120,0)" stop-opacity="1.000"/><stop offset="0.333" stop-color="rgb(255,120,0)" stop-opacity="1.000"/><stop offset="0.417" stop-color="rgb(255,120,0)" stop-opacity="0.998"/><stop offset="0.500" stop-color="rgb(255,120,0)" stop-opacity="0.982"/><stop offset="0.583" stop-color="rgb(255,120,0)" stop-opacity="0.902"/><stop offset="0.667" stop-color="rgb(255,120,0)" stop-opacity="0.691"/><stop offset="0.750" stop-color="rgb(255,120,0)" stop-opacity="0.384"/><stop offset="0.833" stop-color="rgb(255,120,0)" stop-opacity="0.138"/><stop offset="0.917" stop-color="rgb(255,120,0)" stop-opacity="0.030"/><stop offset="1.000" stop-color="rgb(255,120,0)" stop-opacity="0.000"/></radialGradient></defs>
<ellipse cx="844.40" cy="404.60" rx="14.18" ry="20.18" fill="url(#eg52)"/>
<defs><radialGradient id="eg53"><stop offset="0.000" stop-color="rgb(225,10,0)" stop-opacity="1.000"/><stop offset="0.083" stop-color="rgb(225,10,0)" stop-opacity="1.000"/><stop offset="0.167" stop-color="rgb(225,10,0)" stop-opacity="1.000"/><stop offset="0.250" stop-color="rgb(225,10,0)" stop-opacity="1.000"/><stop offset="0.333" stop-color="rgb(225,10,0)" stop-opacity="1.000"/><stop offset="0.417" stop-color="rgb(225,10,0)" stop-opacity="0.999"/><stop offset="0.500" stop-color="rgb(225,10,0)" stop-opacity="0.986"/><stop offset="0.583" stop-color="rgb(225,10,0)" stop-opacity="0.915"/><stop offset="0.667" stop-color="rgb(225,10,0)" stop-opacity="0.712"/><stop offset="0.750" stop-color="rgb(225,10,0)" stop-opacity="0.400"/><stop offset="0.833" stop-color="rgb(225,10,0)" stop-opacity="0.143"/><stop offset="0.917" stop-color="rgb(225,10,0)" stop-opacity="0.030"/><stop offset="1.000" stop-color="rgb(225,10,0)" stop-opacity="0.000"/></radialGradient></defs>
<ellipse cx="843.80" cy="404.60" rx="11.90" ry="17.40" fill="url(#eg53)"/>
<defs><radialGradient id="eg54"><stop offset="0.000" stop-color="rgb(150,0,0)" stop-opacity="1.000"/><stop offset="0.083" stop-color="rgb(150,0,0)" stop-opacity="1.000"/><stop offset="0.167" stop-color="rgb(150,0,0)" stop-opacity="0.998"/><stop offset="0.250" stop-color="rgb(150,0,0)" stop-opacity="0.988"/><stop offset="0.333" stop-color="rgb(150,0,0)" stop-opacity="0.956"/><stop offset="0.417" stop-color="rgb(150,0,0)" stop-opacity="0.874"/><stop offset="0.500" stop-color="rgb(150,0,0)" stop-opacity="0.720"/><stop offset="0.583" stop-color="rgb(150,0,0)" stop-opacity="0.508"/><stop offset="0.667" stop-color="rgb(150,0,0)" stop-opacity="0.294"/><stop offset="0.750" stop-color="rgb(150,0,0)" stop-opacity="0.135"/><stop offset="0.833" stop-color="rgb(150,0,0)" stop-opacity="0.048"/><stop offset="0.917" stop-color="rgb(150,0,0)" stop-opacity="0.013"/><stop offset="1.000" stop-color="rgb(150,0,0)" stop-opacity="0.000"/></radialGradient></defs>
<ellipse cx="843.00" cy="404.60" rx="7.96" ry="13.66" fill="url(#eg54)"/>
<rect x="824.40" y="392.00" width="6.00" height="25.00" fill="rgb(20,190,250)" filter="url(#bl11)"/>
<rect x="801.40" y="390.60" width="23.40" height="28.20" fill="rgb(20,125,250)"/>
</g>
<path d="M784.6,390.6H842.4V418.8H784.6ZM801.4,390.6V418.8M824.8,390.6V418.8" fill="none" stroke="#000" stroke-width="0.9" stroke-opacity="0.85"/>
<text x="738.30" y="497.40" font-size="11.8" text-anchor="middle" fill="#1e1e1e" stroke="#1e1e1e" stroke-width="0.2" >−1.2</text>
<text x="778.50" y="497.40" font-size="11.8" text-anchor="middle" fill="#1e1e1e" stroke="#1e1e1e" stroke-width="0.2" >−0.6</text>
<text x="814.40" y="497.40" font-size="11.8" text-anchor="middle" fill="#1e1e1e" stroke="#1e1e1e" stroke-width="0.2" >0.0</text>
<text x="856.40" y="497.40" font-size="11.8" text-anchor="middle" fill="#1e1e1e" stroke="#1e1e1e" stroke-width="0.2" >0.6</text>
<text x="894.60" y="497.40" font-size="11.8" text-anchor="middle" fill="#1e1e1e" stroke="#1e1e1e" stroke-width="0.2" >1.2</text>
<text x="720.70" y="335.00" font-size="11.8" text-anchor="end" fill="#555" stroke="#555" stroke-width="0.2" >1.4</text>
<text x="720.70" y="372.50" font-size="11.8" text-anchor="end" fill="#1e1e1e" stroke="#1e1e1e" stroke-width="0.2" >0.8</text>
<text x="720.70" y="409.80" font-size="11.8" text-anchor="end" fill="#1e1e1e" stroke="#1e1e1e" stroke-width="0.2" >0.2</text>
<text x="720.70" y="447.00" font-size="11.8" text-anchor="end" fill="#1e1e1e" stroke="#1e1e1e" stroke-width="0.2" >−0.4</text>
<text x="720.70" y="485.90" font-size="11.8" text-anchor="end" fill="#1e1e1e" stroke="#1e1e1e" stroke-width="0.2" >−1.0</text>
<text x="814.20" y="508.20" font-size="12.4" text-anchor="middle" fill="#1e1e1e" stroke="#1e1e1e" stroke-width="0.2" textLength="30.20" lengthAdjust="spacingAndGlyphs" >y(μm)</text>
<text x="0" y="0" font-size="12.4" text-anchor="middle" fill="#1e1e1e" stroke="#1e1e1e" stroke-width="0.2" transform="translate(700.5,403.6) rotate(-90)" textLength="29" lengthAdjust="spacingAndGlyphs">z(μm)</text>
<text x="685.20" y="339.20" font-size="20" text-anchor="start" fill="#222" stroke="#222" stroke-width="0.2" textLength="20.20" lengthAdjust="spacingAndGlyphs" >(g)</text>
<defs><linearGradient id="jet" x1="0" x2="0" y1="1" y2="0"><stop offset="0" stop-color="rgb(0,0,143)"/><stop offset="0.11" stop-color="rgb(0,0,255)"/><stop offset="0.125" stop-color="rgb(0,0,255)"/><stop offset="0.375" stop-color="rgb(0,255,255)"/><stop offset="0.625" stop-color="rgb(255,255,0)"/><stop offset="0.875" stop-color="rgb(255,0,0)"/><stop offset="1" stop-color="rgb(128,0,0)"/></linearGradient></defs>
<rect x="927.00" y="320.10" width="14.00" height="165.40" fill="url(#jet)"/>
<text x="950.60" y="324.20" font-size="11" text-anchor="start" fill="#444" stroke="#444" stroke-width="0.2" >1</text>
<text x="950.60" y="489.40" font-size="11" text-anchor="start" fill="#444" stroke="#444" stroke-width="0.2" >0</text>
</svg></body></html>
